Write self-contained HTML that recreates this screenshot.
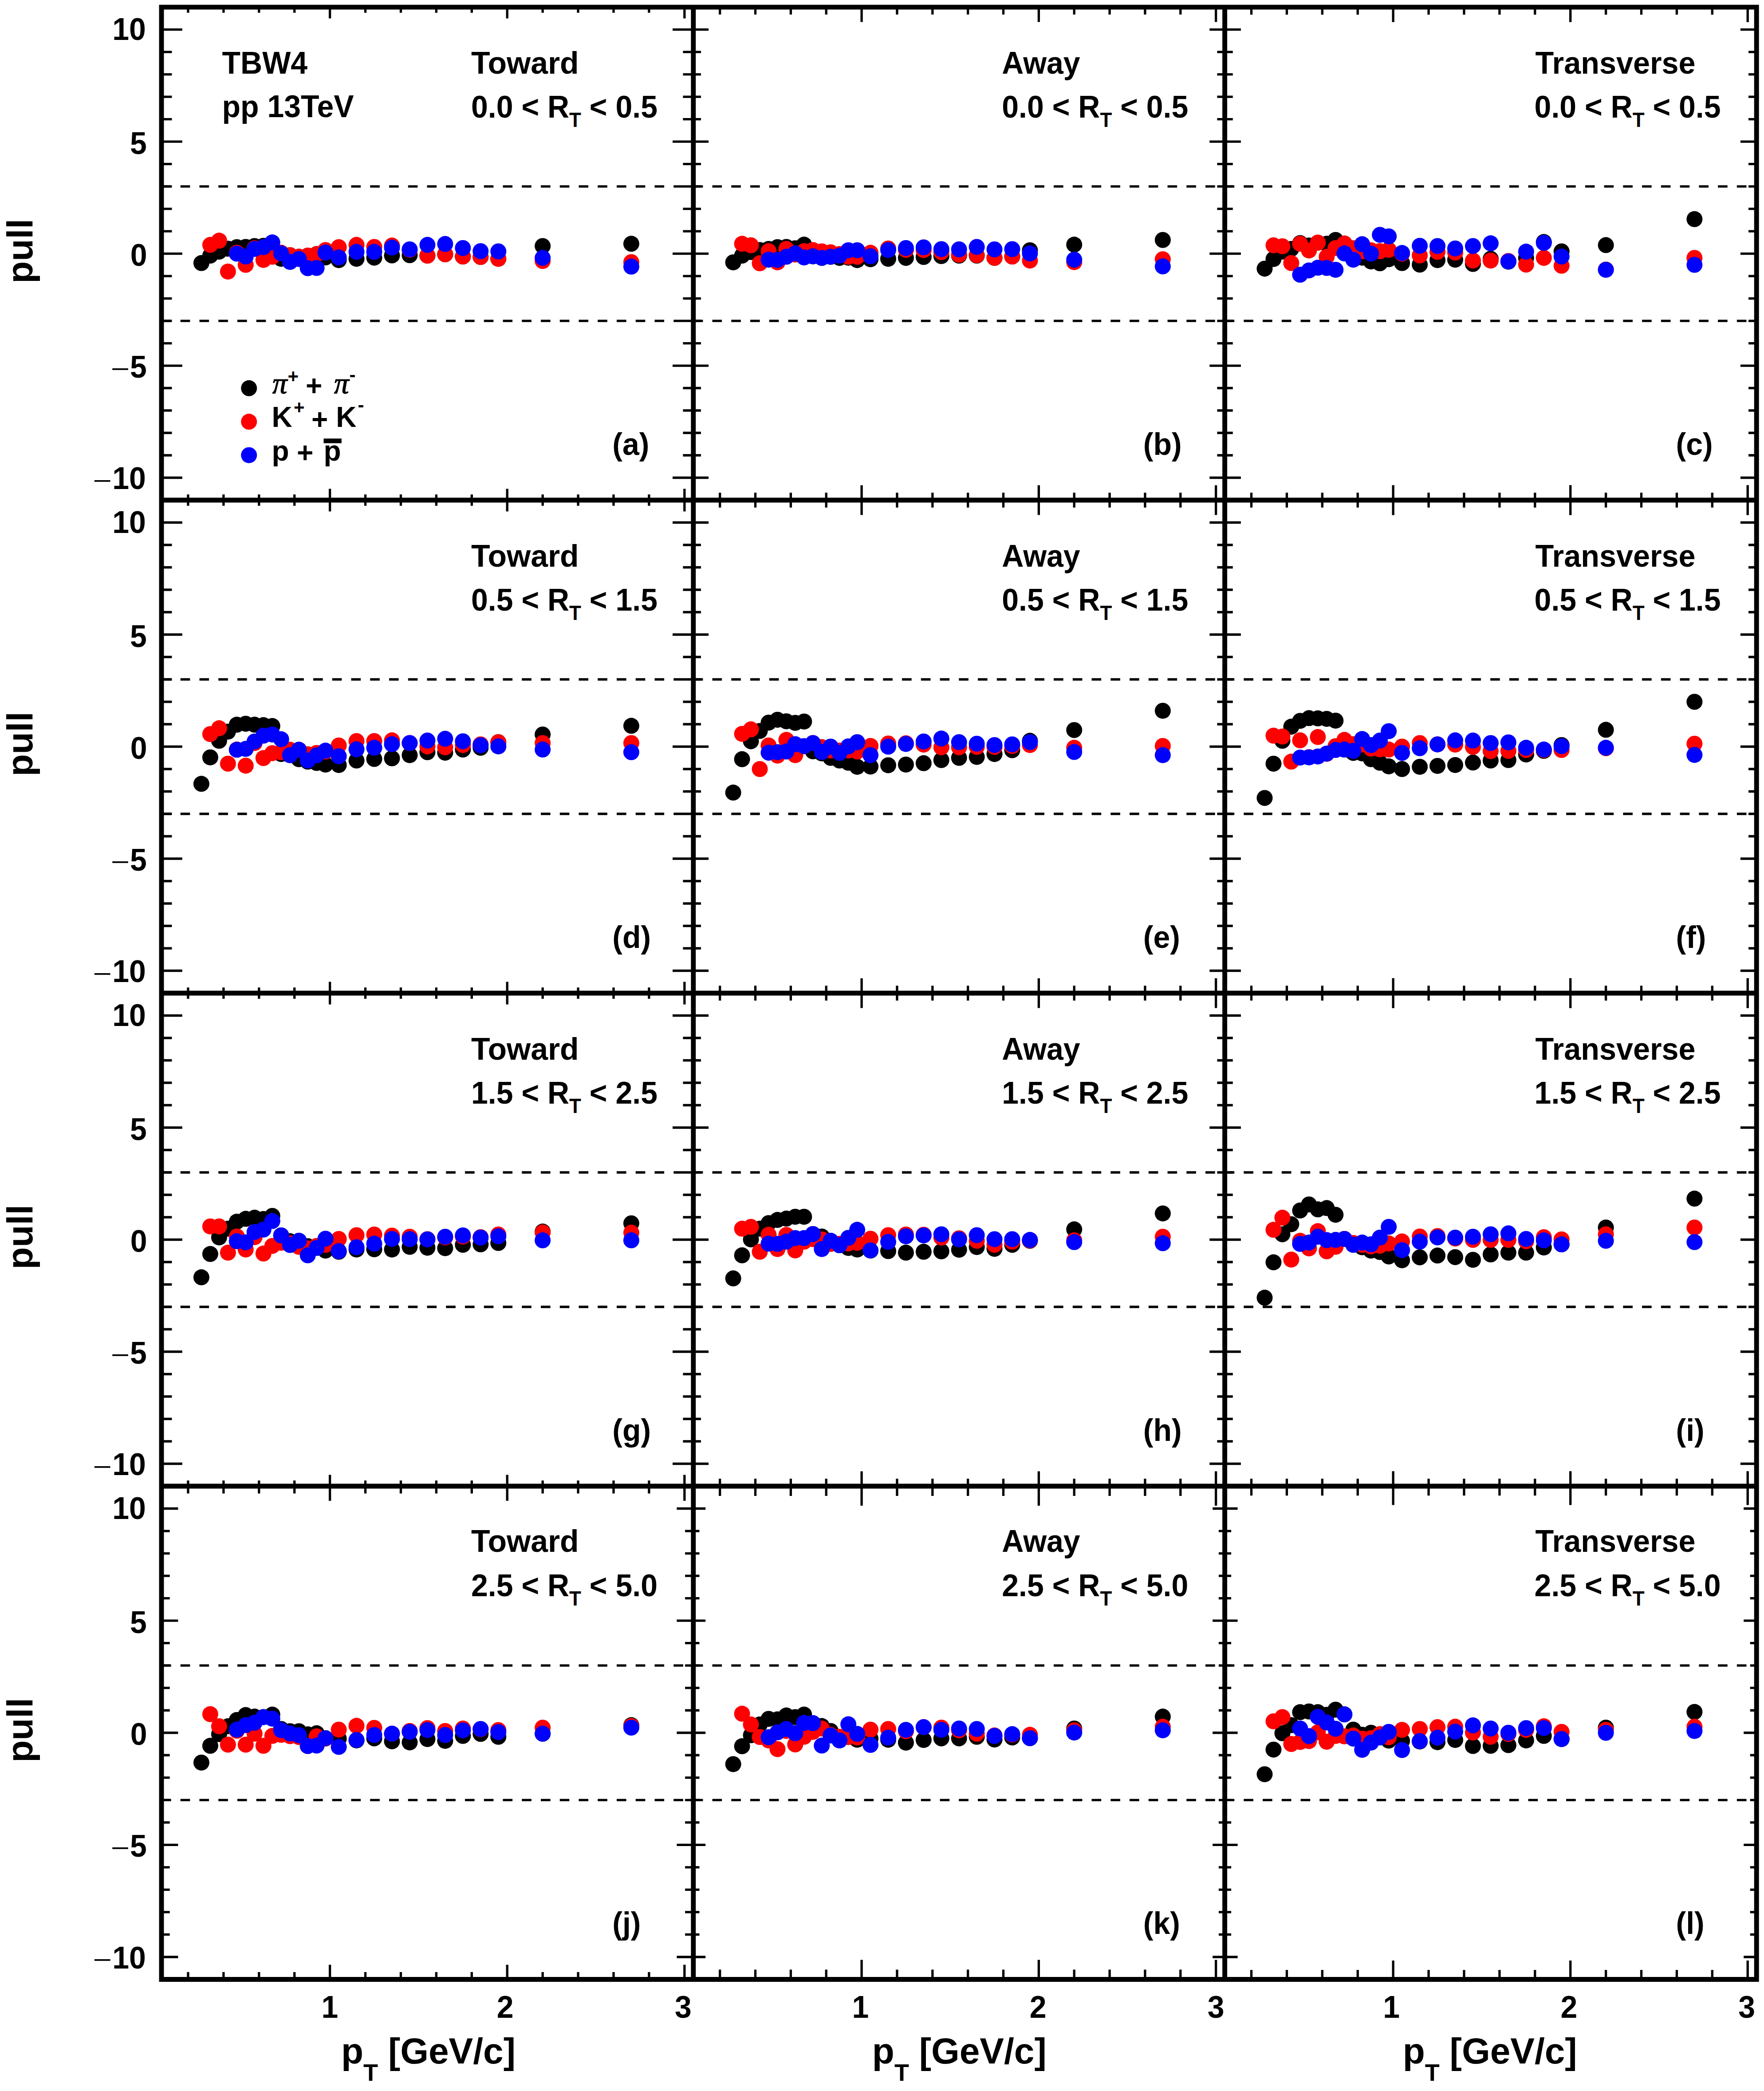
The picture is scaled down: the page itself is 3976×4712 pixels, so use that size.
<!DOCTYPE html>
<html><head><meta charset="utf-8"><title>pull</title>
<style>html,body{margin:0;padding:0;background:#fff}svg{display:block}</style></head><body>
<svg width="3976" height="4712" viewBox="0 0 3976 4712">
<rect width="3976" height="4712" fill="#fff"/>
<line x1="364" y1="420.06" x2="1562.8" y2="420.06" stroke="#000" stroke-width="5.3" stroke-dasharray="21.6 21.15"/>
<line x1="364" y1="723.04" x2="1562.8" y2="723.04" stroke="#000" stroke-width="5.3" stroke-dasharray="21.6 21.15"/>
<g fill="#000000">
<circle cx="453.91" cy="592.76" r="18.0"/>
<circle cx="473.89" cy="576.09" r="18.0"/>
<circle cx="493.87" cy="567.01" r="18.0"/>
<circle cx="513.85" cy="560.44" r="18.0"/>
<circle cx="533.83" cy="556.91" r="18.0"/>
<circle cx="553.81" cy="556.4" r="18.0"/>
<circle cx="573.79" cy="554.38" r="18.0"/>
<circle cx="593.77" cy="553.88" r="18.0"/>
<circle cx="613.75" cy="558.42" r="18.0"/>
<circle cx="633.73" cy="583.16" r="18.0"/>
<circle cx="653.71" cy="575.08" r="18.0"/>
<circle cx="673.69" cy="578.62" r="18.0"/>
<circle cx="693.67" cy="576.09" r="18.0"/>
<circle cx="713.65" cy="572.56" r="18.0"/>
<circle cx="733.63" cy="580.13" r="18.0"/>
<circle cx="763.6" cy="586.19" r="18.0"/>
<circle cx="803.56" cy="583.16" r="18.0"/>
<circle cx="843.52" cy="580.64" r="18.0"/>
<circle cx="883.48" cy="575.59" r="18.0"/>
<circle cx="923.44" cy="575.08" r="18.0"/>
<circle cx="963.4" cy="576.09" r="18.0"/>
<circle cx="1003.36" cy="573.06" r="18.0"/>
<circle cx="1043.32" cy="578.11" r="18.0"/>
<circle cx="1083.28" cy="579.12" r="18.0"/>
<circle cx="1123.24" cy="583.16" r="18.0"/>
<circle cx="1223.14" cy="554.38" r="18.0"/>
<circle cx="1422.94" cy="549.33" r="18.0"/>
</g>
<g fill="#ff0000">
<circle cx="473.89" cy="551.86" r="18.0"/>
<circle cx="493.87" cy="542.26" r="18.0"/>
<circle cx="513.85" cy="611.95" r="18.0"/>
<circle cx="533.83" cy="569.53" r="18.0"/>
<circle cx="553.81" cy="596.8" r="18.0"/>
<circle cx="573.79" cy="559.43" r="18.0"/>
<circle cx="593.77" cy="585.69" r="18.0"/>
<circle cx="613.75" cy="578.62" r="18.0"/>
<circle cx="633.73" cy="569.53" r="18.0"/>
<circle cx="653.71" cy="575.08" r="18.0"/>
<circle cx="673.69" cy="578.62" r="18.0"/>
<circle cx="693.67" cy="576.09" r="18.0"/>
<circle cx="713.65" cy="572.56" r="18.0"/>
<circle cx="733.63" cy="563.47" r="18.0"/>
<circle cx="763.6" cy="556.91" r="18.0"/>
<circle cx="803.56" cy="551.86" r="18.0"/>
<circle cx="843.52" cy="556.4" r="18.0"/>
<circle cx="883.48" cy="553.37" r="18.0"/>
<circle cx="923.44" cy="562.97" r="18.0"/>
<circle cx="963.4" cy="576.09" r="18.0"/>
<circle cx="1003.36" cy="573.06" r="18.0"/>
<circle cx="1043.32" cy="578.11" r="18.0"/>
<circle cx="1083.28" cy="579.12" r="18.0"/>
<circle cx="1123.24" cy="583.16" r="18.0"/>
<circle cx="1223.14" cy="588.21" r="18.0"/>
<circle cx="1422.94" cy="590.74" r="18.0"/>
</g>
<g fill="#0000ff">
<circle cx="533.83" cy="571.55" r="18.0"/>
<circle cx="553.81" cy="578.11" r="18.0"/>
<circle cx="573.79" cy="560.95" r="18.0"/>
<circle cx="593.77" cy="556.91" r="18.0"/>
<circle cx="613.75" cy="546.3" r="18.0"/>
<circle cx="633.73" cy="571.05" r="18.0"/>
<circle cx="653.71" cy="590.23" r="18.0"/>
<circle cx="673.69" cy="583.67" r="18.0"/>
<circle cx="693.67" cy="604.37" r="18.0"/>
<circle cx="713.65" cy="603.87" r="18.0"/>
<circle cx="733.63" cy="569.03" r="18.0"/>
<circle cx="763.6" cy="580.13" r="18.0"/>
<circle cx="803.56" cy="567.51" r="18.0"/>
<circle cx="843.52" cy="567.51" r="18.0"/>
<circle cx="883.48" cy="557.92" r="18.0"/>
<circle cx="923.44" cy="561.96" r="18.0"/>
<circle cx="963.4" cy="551.86" r="18.0"/>
<circle cx="1003.36" cy="549.84" r="18.0"/>
<circle cx="1043.32" cy="558.93" r="18.0"/>
<circle cx="1083.28" cy="566" r="18.0"/>
<circle cx="1123.24" cy="566.5" r="18.0"/>
<circle cx="1223.14" cy="581.14" r="18.0"/>
<circle cx="1422.94" cy="600.84" r="18.0"/>
</g>
<line x1="1562.8" y1="420.06" x2="2760.6" y2="420.06" stroke="#000" stroke-width="5.3" stroke-dasharray="21.6 21.15"/>
<line x1="1562.8" y1="723.04" x2="2760.6" y2="723.04" stroke="#000" stroke-width="5.3" stroke-dasharray="21.6 21.15"/>
<g fill="#000000">
<circle cx="1652.63" cy="591.24" r="18.0"/>
<circle cx="1672.6" cy="576.09" r="18.0"/>
<circle cx="1692.56" cy="568.02" r="18.0"/>
<circle cx="1712.52" cy="563.47" r="18.0"/>
<circle cx="1732.49" cy="560.95" r="18.0"/>
<circle cx="1752.45" cy="556.91" r="18.0"/>
<circle cx="1772.41" cy="556.4" r="18.0"/>
<circle cx="1792.38" cy="559.43" r="18.0"/>
<circle cx="1812.34" cy="551.35" r="18.0"/>
<circle cx="1832.3" cy="577.61" r="18.0"/>
<circle cx="1852.27" cy="581.14" r="18.0"/>
<circle cx="1872.23" cy="578.62" r="18.0"/>
<circle cx="1892.19" cy="581.14" r="18.0"/>
<circle cx="1912.16" cy="580.64" r="18.0"/>
<circle cx="1932.12" cy="586.19" r="18.0"/>
<circle cx="1962.07" cy="584.17" r="18.0"/>
<circle cx="2001.99" cy="583.16" r="18.0"/>
<circle cx="2041.92" cy="581.14" r="18.0"/>
<circle cx="2081.85" cy="579.12" r="18.0"/>
<circle cx="2121.77" cy="577.1" r="18.0"/>
<circle cx="2161.7" cy="576.09" r="18.0"/>
<circle cx="2201.63" cy="576.09" r="18.0"/>
<circle cx="2241.55" cy="581.14" r="18.0"/>
<circle cx="2281.48" cy="578.11" r="18.0"/>
<circle cx="2321.41" cy="563.98" r="18.0"/>
<circle cx="2421.22" cy="551.35" r="18.0"/>
<circle cx="2620.86" cy="540.75" r="18.0"/>
</g>
<g fill="#ff0000">
<circle cx="1672.6" cy="549.33" r="18.0"/>
<circle cx="1692.56" cy="552.87" r="18.0"/>
<circle cx="1712.52" cy="593.26" r="18.0"/>
<circle cx="1732.49" cy="566" r="18.0"/>
<circle cx="1752.45" cy="591.24" r="18.0"/>
<circle cx="1772.41" cy="560.95" r="18.0"/>
<circle cx="1792.38" cy="573.57" r="18.0"/>
<circle cx="1812.34" cy="566" r="18.0"/>
<circle cx="1832.3" cy="563.47" r="18.0"/>
<circle cx="1852.27" cy="566.5" r="18.0"/>
<circle cx="1872.23" cy="568.52" r="18.0"/>
<circle cx="1892.19" cy="572.56" r="18.0"/>
<circle cx="1912.16" cy="578.62" r="18.0"/>
<circle cx="1932.12" cy="578.62" r="18.0"/>
<circle cx="1962.07" cy="569.53" r="18.0"/>
<circle cx="2001.99" cy="559.94" r="18.0"/>
<circle cx="2041.92" cy="562.97" r="18.0"/>
<circle cx="2081.85" cy="563.47" r="18.0"/>
<circle cx="2121.77" cy="568.02" r="18.0"/>
<circle cx="2161.7" cy="574.07" r="18.0"/>
<circle cx="2201.63" cy="575.08" r="18.0"/>
<circle cx="2241.55" cy="581.14" r="18.0"/>
<circle cx="2281.48" cy="578.11" r="18.0"/>
<circle cx="2321.41" cy="587.2" r="18.0"/>
<circle cx="2421.22" cy="590.74" r="18.0"/>
<circle cx="2620.86" cy="584.17" r="18.0"/>
</g>
<g fill="#0000ff">
<circle cx="1732.49" cy="585.18" r="18.0"/>
<circle cx="1752.45" cy="585.69" r="18.0"/>
<circle cx="1772.41" cy="578.62" r="18.0"/>
<circle cx="1792.38" cy="571.05" r="18.0"/>
<circle cx="1812.34" cy="580.13" r="18.0"/>
<circle cx="1832.3" cy="577.61" r="18.0"/>
<circle cx="1852.27" cy="581.14" r="18.0"/>
<circle cx="1872.23" cy="578.62" r="18.0"/>
<circle cx="1892.19" cy="576.09" r="18.0"/>
<circle cx="1912.16" cy="563.98" r="18.0"/>
<circle cx="1932.12" cy="563.98" r="18.0"/>
<circle cx="1962.07" cy="577.61" r="18.0"/>
<circle cx="2001.99" cy="563.47" r="18.0"/>
<circle cx="2041.92" cy="558.93" r="18.0"/>
<circle cx="2081.85" cy="557.41" r="18.0"/>
<circle cx="2121.77" cy="561.45" r="18.0"/>
<circle cx="2161.7" cy="561.96" r="18.0"/>
<circle cx="2201.63" cy="556.4" r="18.0"/>
<circle cx="2241.55" cy="561.96" r="18.0"/>
<circle cx="2281.48" cy="561.45" r="18.0"/>
<circle cx="2321.41" cy="571.05" r="18.0"/>
<circle cx="2421.22" cy="585.18" r="18.0"/>
<circle cx="2620.86" cy="600.33" r="18.0"/>
</g>
<line x1="2760.6" y1="420.06" x2="3959.2" y2="420.06" stroke="#000" stroke-width="5.3" stroke-dasharray="21.6 21.15"/>
<line x1="2760.6" y1="723.04" x2="3959.2" y2="723.04" stroke="#000" stroke-width="5.3" stroke-dasharray="21.6 21.15"/>
<g fill="#000000">
<circle cx="2850.49" cy="605.38" r="18.0"/>
<circle cx="2870.47" cy="583.67" r="18.0"/>
<circle cx="2890.45" cy="567.01" r="18.0"/>
<circle cx="2910.42" cy="560.95" r="18.0"/>
<circle cx="2930.4" cy="547.82" r="18.0"/>
<circle cx="2950.38" cy="553.37" r="18.0"/>
<circle cx="2970.36" cy="546.81" r="18.0"/>
<circle cx="2990.33" cy="549.33" r="18.0"/>
<circle cx="3010.31" cy="540.75" r="18.0"/>
<circle cx="3030.28" cy="548.83" r="18.0"/>
<circle cx="3050.26" cy="559.43" r="18.0"/>
<circle cx="3070.24" cy="580.64" r="18.0"/>
<circle cx="3090.21" cy="589.22" r="18.0"/>
<circle cx="3110.19" cy="593.26" r="18.0"/>
<circle cx="3130.17" cy="584.17" r="18.0"/>
<circle cx="3160.13" cy="592.76" r="18.0"/>
<circle cx="3200.09" cy="596.29" r="18.0"/>
<circle cx="3240.04" cy="586.19" r="18.0"/>
<circle cx="3279.99" cy="585.18" r="18.0"/>
<circle cx="3319.95" cy="594.78" r="18.0"/>
<circle cx="3359.9" cy="583.16" r="18.0"/>
<circle cx="3399.85" cy="589.73" r="18.0"/>
<circle cx="3439.81" cy="581.14" r="18.0"/>
<circle cx="3479.76" cy="545.29" r="18.0"/>
<circle cx="3519.71" cy="566.5" r="18.0"/>
<circle cx="3619.6" cy="552.36" r="18.0"/>
<circle cx="3819.36" cy="493.79" r="18.0"/>
</g>
<g fill="#ff0000">
<circle cx="2870.47" cy="552.87" r="18.0"/>
<circle cx="2890.45" cy="554.89" r="18.0"/>
<circle cx="2910.42" cy="592.76" r="18.0"/>
<circle cx="2930.4" cy="549.33" r="18.0"/>
<circle cx="2950.38" cy="564.48" r="18.0"/>
<circle cx="2970.36" cy="546.81" r="18.0"/>
<circle cx="2990.33" cy="578.62" r="18.0"/>
<circle cx="3010.31" cy="558.93" r="18.0"/>
<circle cx="3030.28" cy="548.83" r="18.0"/>
<circle cx="3050.26" cy="559.43" r="18.0"/>
<circle cx="3070.24" cy="566" r="18.0"/>
<circle cx="3090.21" cy="563.98" r="18.0"/>
<circle cx="3110.19" cy="566" r="18.0"/>
<circle cx="3130.17" cy="562.97" r="18.0"/>
<circle cx="3160.13" cy="571.55" r="18.0"/>
<circle cx="3200.09" cy="575.59" r="18.0"/>
<circle cx="3240.04" cy="567.51" r="18.0"/>
<circle cx="3279.99" cy="569.03" r="18.0"/>
<circle cx="3319.95" cy="587.2" r="18.0"/>
<circle cx="3359.9" cy="587.2" r="18.0"/>
<circle cx="3399.85" cy="588.21" r="18.0"/>
<circle cx="3439.81" cy="596.29" r="18.0"/>
<circle cx="3479.76" cy="581.14" r="18.0"/>
<circle cx="3519.71" cy="598.82" r="18.0"/>
<circle cx="3619.6" cy="607.4" r="18.0"/>
<circle cx="3819.36" cy="581.14" r="18.0"/>
</g>
<g fill="#0000ff">
<circle cx="2930.4" cy="619.02" r="18.0"/>
<circle cx="2950.38" cy="609.42" r="18.0"/>
<circle cx="2970.36" cy="603.36" r="18.0"/>
<circle cx="2990.33" cy="603.87" r="18.0"/>
<circle cx="3010.31" cy="607.91" r="18.0"/>
<circle cx="3030.28" cy="571.05" r="18.0"/>
<circle cx="3050.26" cy="585.18" r="18.0"/>
<circle cx="3070.24" cy="550.34" r="18.0"/>
<circle cx="3090.21" cy="571.55" r="18.0"/>
<circle cx="3110.19" cy="529.13" r="18.0"/>
<circle cx="3130.17" cy="532.67" r="18.0"/>
<circle cx="3160.13" cy="570.04" r="18.0"/>
<circle cx="3200.09" cy="553.88" r="18.0"/>
<circle cx="3240.04" cy="554.38" r="18.0"/>
<circle cx="3279.99" cy="559.94" r="18.0"/>
<circle cx="3319.95" cy="554.38" r="18.0"/>
<circle cx="3359.9" cy="548.32" r="18.0"/>
<circle cx="3399.85" cy="589.22" r="18.0"/>
<circle cx="3439.81" cy="567.01" r="18.0"/>
<circle cx="3479.76" cy="547.31" r="18.0"/>
<circle cx="3519.71" cy="578.11" r="18.0"/>
<circle cx="3619.6" cy="607.91" r="18.0"/>
<circle cx="3819.36" cy="596.8" r="18.0"/>
</g>
<line x1="364" y1="1531" x2="1562.8" y2="1531" stroke="#000" stroke-width="5.3" stroke-dasharray="21.6 21.15"/>
<line x1="364" y1="1834" x2="1562.8" y2="1834" stroke="#000" stroke-width="5.3" stroke-dasharray="21.6 21.15"/>
<g fill="#000000">
<circle cx="453.91" cy="1766.33" r="18.0"/>
<circle cx="473.89" cy="1706.74" r="18.0"/>
<circle cx="493.87" cy="1669.37" r="18.0"/>
<circle cx="513.85" cy="1648.66" r="18.0"/>
<circle cx="533.83" cy="1633.01" r="18.0"/>
<circle cx="553.81" cy="1630.99" r="18.0"/>
<circle cx="573.79" cy="1633.01" r="18.0"/>
<circle cx="593.77" cy="1634.02" r="18.0"/>
<circle cx="613.75" cy="1636.04" r="18.0"/>
<circle cx="633.73" cy="1699.16" r="18.0"/>
<circle cx="653.71" cy="1701.69" r="18.0"/>
<circle cx="673.69" cy="1710.78" r="18.0"/>
<circle cx="693.67" cy="1716.34" r="18.0"/>
<circle cx="713.65" cy="1719.37" r="18.0"/>
<circle cx="733.63" cy="1722.9" r="18.0"/>
<circle cx="763.6" cy="1723.91" r="18.0"/>
<circle cx="803.56" cy="1713.81" r="18.0"/>
<circle cx="843.52" cy="1710.28" r="18.0"/>
<circle cx="883.48" cy="1708.76" r="18.0"/>
<circle cx="923.44" cy="1701.69" r="18.0"/>
<circle cx="963.4" cy="1695.12" r="18.0"/>
<circle cx="1003.36" cy="1696.13" r="18.0"/>
<circle cx="1043.32" cy="1689.07" r="18.0"/>
<circle cx="1083.28" cy="1685.03" r="18.0"/>
<circle cx="1123.24" cy="1672.4" r="18.0"/>
<circle cx="1223.14" cy="1655.23" r="18.0"/>
<circle cx="1422.94" cy="1635.54" r="18.0"/>
</g>
<g fill="#ff0000">
<circle cx="473.89" cy="1654.22" r="18.0"/>
<circle cx="493.87" cy="1641.09" r="18.0"/>
<circle cx="513.85" cy="1720.88" r="18.0"/>
<circle cx="533.83" cy="1689.07" r="18.0"/>
<circle cx="553.81" cy="1725.43" r="18.0"/>
<circle cx="573.79" cy="1674.42" r="18.0"/>
<circle cx="593.77" cy="1708.26" r="18.0"/>
<circle cx="613.75" cy="1697.14" r="18.0"/>
<circle cx="633.73" cy="1695.12" r="18.0"/>
<circle cx="653.71" cy="1689.57" r="18.0"/>
<circle cx="673.69" cy="1689.57" r="18.0"/>
<circle cx="693.67" cy="1699.67" r="18.0"/>
<circle cx="713.65" cy="1696.64" r="18.0"/>
<circle cx="733.63" cy="1693.61" r="18.0"/>
<circle cx="763.6" cy="1679.97" r="18.0"/>
<circle cx="803.56" cy="1669.88" r="18.0"/>
<circle cx="843.52" cy="1669.88" r="18.0"/>
<circle cx="883.48" cy="1668.36" r="18.0"/>
<circle cx="923.44" cy="1674.42" r="18.0"/>
<circle cx="963.4" cy="1681.99" r="18.0"/>
<circle cx="1003.36" cy="1684.01" r="18.0"/>
<circle cx="1043.32" cy="1678.97" r="18.0"/>
<circle cx="1083.28" cy="1677.45" r="18.0"/>
<circle cx="1123.24" cy="1672.4" r="18.0"/>
<circle cx="1223.14" cy="1674.42" r="18.0"/>
<circle cx="1422.94" cy="1674.42" r="18.0"/>
</g>
<g fill="#0000ff">
<circle cx="533.83" cy="1689.57" r="18.0"/>
<circle cx="553.81" cy="1687.55" r="18.0"/>
<circle cx="573.79" cy="1670.88" r="18.0"/>
<circle cx="593.77" cy="1657.76" r="18.0"/>
<circle cx="613.75" cy="1655.23" r="18.0"/>
<circle cx="633.73" cy="1665.84" r="18.0"/>
<circle cx="653.71" cy="1701.69" r="18.0"/>
<circle cx="673.69" cy="1689.57" r="18.0"/>
<circle cx="693.67" cy="1713.81" r="18.0"/>
<circle cx="713.65" cy="1702.2" r="18.0"/>
<circle cx="733.63" cy="1691.59" r="18.0"/>
<circle cx="763.6" cy="1704.22" r="18.0"/>
<circle cx="803.56" cy="1688.56" r="18.0"/>
<circle cx="843.52" cy="1685.03" r="18.0"/>
<circle cx="883.48" cy="1676.95" r="18.0"/>
<circle cx="923.44" cy="1674.42" r="18.0"/>
<circle cx="963.4" cy="1668.87" r="18.0"/>
<circle cx="1003.36" cy="1664.82" r="18.0"/>
<circle cx="1043.32" cy="1670.38" r="18.0"/>
<circle cx="1083.28" cy="1679.47" r="18.0"/>
<circle cx="1123.24" cy="1681.99" r="18.0"/>
<circle cx="1223.14" cy="1689.07" r="18.0"/>
<circle cx="1422.94" cy="1695.12" r="18.0"/>
</g>
<line x1="1562.8" y1="1531" x2="2760.6" y2="1531" stroke="#000" stroke-width="5.3" stroke-dasharray="21.6 21.15"/>
<line x1="1562.8" y1="1834" x2="2760.6" y2="1834" stroke="#000" stroke-width="5.3" stroke-dasharray="21.6 21.15"/>
<g fill="#000000">
<circle cx="1652.63" cy="1786.03" r="18.0"/>
<circle cx="1672.6" cy="1710.78" r="18.0"/>
<circle cx="1692.56" cy="1670.38" r="18.0"/>
<circle cx="1712.52" cy="1647.15" r="18.0"/>
<circle cx="1732.49" cy="1628.46" r="18.0"/>
<circle cx="1752.45" cy="1621.9" r="18.0"/>
<circle cx="1772.41" cy="1625.43" r="18.0"/>
<circle cx="1792.38" cy="1628.97" r="18.0"/>
<circle cx="1812.34" cy="1625.94" r="18.0"/>
<circle cx="1832.3" cy="1693.11" r="18.0"/>
<circle cx="1852.27" cy="1697.65" r="18.0"/>
<circle cx="1872.23" cy="1707.75" r="18.0"/>
<circle cx="1892.19" cy="1713.81" r="18.0"/>
<circle cx="1912.16" cy="1718.86" r="18.0"/>
<circle cx="1932.12" cy="1727.95" r="18.0"/>
<circle cx="1962.07" cy="1727.45" r="18.0"/>
<circle cx="2001.99" cy="1724.41" r="18.0"/>
<circle cx="2041.92" cy="1722.9" r="18.0"/>
<circle cx="2081.85" cy="1719.87" r="18.0"/>
<circle cx="2121.77" cy="1712.8" r="18.0"/>
<circle cx="2161.7" cy="1707.75" r="18.0"/>
<circle cx="2201.63" cy="1705.73" r="18.0"/>
<circle cx="2241.55" cy="1699.16" r="18.0"/>
<circle cx="2281.48" cy="1690.58" r="18.0"/>
<circle cx="2321.41" cy="1669.37" r="18.0"/>
<circle cx="2421.22" cy="1645.13" r="18.0"/>
<circle cx="2620.86" cy="1601.7" r="18.0"/>
</g>
<g fill="#ff0000">
<circle cx="1672.6" cy="1653.72" r="18.0"/>
<circle cx="1692.56" cy="1643.62" r="18.0"/>
<circle cx="1712.52" cy="1733" r="18.0"/>
<circle cx="1732.49" cy="1679.97" r="18.0"/>
<circle cx="1752.45" cy="1702.7" r="18.0"/>
<circle cx="1772.41" cy="1667.35" r="18.0"/>
<circle cx="1792.38" cy="1701.69" r="18.0"/>
<circle cx="1812.34" cy="1681.49" r="18.0"/>
<circle cx="1832.3" cy="1674.42" r="18.0"/>
<circle cx="1852.27" cy="1683.51" r="18.0"/>
<circle cx="1872.23" cy="1691.09" r="18.0"/>
<circle cx="1892.19" cy="1691.59" r="18.0"/>
<circle cx="1912.16" cy="1691.09" r="18.0"/>
<circle cx="1932.12" cy="1693.61" r="18.0"/>
<circle cx="1962.07" cy="1680.99" r="18.0"/>
<circle cx="2001.99" cy="1675.43" r="18.0"/>
<circle cx="2041.92" cy="1674.93" r="18.0"/>
<circle cx="2081.85" cy="1677.95" r="18.0"/>
<circle cx="2121.77" cy="1684.01" r="18.0"/>
<circle cx="2161.7" cy="1684.01" r="18.0"/>
<circle cx="2201.63" cy="1683.01" r="18.0"/>
<circle cx="2241.55" cy="1683.01" r="18.0"/>
<circle cx="2281.48" cy="1680.99" r="18.0"/>
<circle cx="2321.41" cy="1678.97" r="18.0"/>
<circle cx="2421.22" cy="1685.03" r="18.0"/>
<circle cx="2620.86" cy="1680.99" r="18.0"/>
</g>
<g fill="#0000ff">
<circle cx="1732.49" cy="1696.13" r="18.0"/>
<circle cx="1752.45" cy="1695.12" r="18.0"/>
<circle cx="1772.41" cy="1693.61" r="18.0"/>
<circle cx="1792.38" cy="1676.95" r="18.0"/>
<circle cx="1812.34" cy="1681.49" r="18.0"/>
<circle cx="1832.3" cy="1674.42" r="18.0"/>
<circle cx="1852.27" cy="1694.62" r="18.0"/>
<circle cx="1872.23" cy="1682.5" r="18.0"/>
<circle cx="1892.19" cy="1696.64" r="18.0"/>
<circle cx="1912.16" cy="1681.99" r="18.0"/>
<circle cx="1932.12" cy="1672.4" r="18.0"/>
<circle cx="1962.07" cy="1701.69" r="18.0"/>
<circle cx="2001.99" cy="1682.5" r="18.0"/>
<circle cx="2041.92" cy="1676.44" r="18.0"/>
<circle cx="2081.85" cy="1670.88" r="18.0"/>
<circle cx="2121.77" cy="1664.32" r="18.0"/>
<circle cx="2161.7" cy="1672.4" r="18.0"/>
<circle cx="2201.63" cy="1675.93" r="18.0"/>
<circle cx="2241.55" cy="1678.97" r="18.0"/>
<circle cx="2281.48" cy="1677.45" r="18.0"/>
<circle cx="2321.41" cy="1672.4" r="18.0"/>
<circle cx="2421.22" cy="1694.62" r="18.0"/>
<circle cx="2620.86" cy="1701.69" r="18.0"/>
</g>
<line x1="2760.6" y1="1531" x2="3959.2" y2="1531" stroke="#000" stroke-width="5.3" stroke-dasharray="21.6 21.15"/>
<line x1="2760.6" y1="1834" x2="3959.2" y2="1834" stroke="#000" stroke-width="5.3" stroke-dasharray="21.6 21.15"/>
<g fill="#000000">
<circle cx="2850.49" cy="1798.14" r="18.0"/>
<circle cx="2870.47" cy="1720.88" r="18.0"/>
<circle cx="2890.45" cy="1669.37" r="18.0"/>
<circle cx="2910.42" cy="1637.55" r="18.0"/>
<circle cx="2930.4" cy="1624.42" r="18.0"/>
<circle cx="2950.38" cy="1618.37" r="18.0"/>
<circle cx="2970.36" cy="1618.87" r="18.0"/>
<circle cx="2990.33" cy="1619.88" r="18.0"/>
<circle cx="3010.31" cy="1623.92" r="18.0"/>
<circle cx="3030.28" cy="1689.07" r="18.0"/>
<circle cx="3050.26" cy="1696.64" r="18.0"/>
<circle cx="3070.24" cy="1697.65" r="18.0"/>
<circle cx="3090.21" cy="1710.78" r="18.0"/>
<circle cx="3110.19" cy="1718.86" r="18.0"/>
<circle cx="3130.17" cy="1726.94" r="18.0"/>
<circle cx="3160.13" cy="1733" r="18.0"/>
<circle cx="3200.09" cy="1727.95" r="18.0"/>
<circle cx="3240.04" cy="1725.93" r="18.0"/>
<circle cx="3279.99" cy="1723.91" r="18.0"/>
<circle cx="3319.95" cy="1718.36" r="18.0"/>
<circle cx="3359.9" cy="1713.81" r="18.0"/>
<circle cx="3399.85" cy="1712.8" r="18.0"/>
<circle cx="3439.81" cy="1700.18" r="18.0"/>
<circle cx="3479.76" cy="1692.1" r="18.0"/>
<circle cx="3519.71" cy="1678.97" r="18.0"/>
<circle cx="3619.6" cy="1644.62" r="18.0"/>
<circle cx="3819.36" cy="1581.5" r="18.0"/>
</g>
<g fill="#ff0000">
<circle cx="2870.47" cy="1657.76" r="18.0"/>
<circle cx="2890.45" cy="1659.78" r="18.0"/>
<circle cx="2910.42" cy="1716.34" r="18.0"/>
<circle cx="2930.4" cy="1668.36" r="18.0"/>
<circle cx="2950.38" cy="1706.24" r="18.0"/>
<circle cx="2970.36" cy="1660.78" r="18.0"/>
<circle cx="2990.33" cy="1698.66" r="18.0"/>
<circle cx="3010.31" cy="1681.49" r="18.0"/>
<circle cx="3030.28" cy="1667.35" r="18.0"/>
<circle cx="3050.26" cy="1676.95" r="18.0"/>
<circle cx="3070.24" cy="1677.45" r="18.0"/>
<circle cx="3090.21" cy="1687.05" r="18.0"/>
<circle cx="3110.19" cy="1688.56" r="18.0"/>
<circle cx="3130.17" cy="1689.07" r="18.0"/>
<circle cx="3160.13" cy="1682.5" r="18.0"/>
<circle cx="3200.09" cy="1674.42" r="18.0"/>
<circle cx="3240.04" cy="1677.45" r="18.0"/>
<circle cx="3279.99" cy="1677.95" r="18.0"/>
<circle cx="3319.95" cy="1683.01" r="18.0"/>
<circle cx="3359.9" cy="1692.6" r="18.0"/>
<circle cx="3399.85" cy="1692.1" r="18.0"/>
<circle cx="3439.81" cy="1690.07" r="18.0"/>
<circle cx="3479.76" cy="1690.07" r="18.0"/>
<circle cx="3519.71" cy="1690.07" r="18.0"/>
<circle cx="3619.6" cy="1686.03" r="18.0"/>
<circle cx="3819.36" cy="1675.93" r="18.0"/>
</g>
<g fill="#0000ff">
<circle cx="2930.4" cy="1707.24" r="18.0"/>
<circle cx="2950.38" cy="1706.74" r="18.0"/>
<circle cx="2970.36" cy="1704.72" r="18.0"/>
<circle cx="2990.33" cy="1698.15" r="18.0"/>
<circle cx="3010.31" cy="1690.07" r="18.0"/>
<circle cx="3030.28" cy="1689.07" r="18.0"/>
<circle cx="3050.26" cy="1692.1" r="18.0"/>
<circle cx="3070.24" cy="1665.33" r="18.0"/>
<circle cx="3090.21" cy="1678.97" r="18.0"/>
<circle cx="3110.19" cy="1668.87" r="18.0"/>
<circle cx="3130.17" cy="1647.65" r="18.0"/>
<circle cx="3160.13" cy="1696.64" r="18.0"/>
<circle cx="3200.09" cy="1686.03" r="18.0"/>
<circle cx="3240.04" cy="1677.45" r="18.0"/>
<circle cx="3279.99" cy="1668.36" r="18.0"/>
<circle cx="3319.95" cy="1668.87" r="18.0"/>
<circle cx="3359.9" cy="1674.42" r="18.0"/>
<circle cx="3399.85" cy="1672.9" r="18.0"/>
<circle cx="3439.81" cy="1685.03" r="18.0"/>
<circle cx="3479.76" cy="1689.07" r="18.0"/>
<circle cx="3519.71" cy="1681.49" r="18.0"/>
<circle cx="3619.6" cy="1685.03" r="18.0"/>
<circle cx="3819.36" cy="1701.18" r="18.0"/>
</g>
<line x1="364" y1="2642" x2="1562.8" y2="2642" stroke="#000" stroke-width="5.3" stroke-dasharray="21.6 21.15"/>
<line x1="364" y1="2945" x2="1562.8" y2="2945" stroke="#000" stroke-width="5.3" stroke-dasharray="21.6 21.15"/>
<g fill="#000000">
<circle cx="453.91" cy="2878.34" r="18.0"/>
<circle cx="473.89" cy="2825.82" r="18.0"/>
<circle cx="493.87" cy="2788.45" r="18.0"/>
<circle cx="513.85" cy="2768.76" r="18.0"/>
<circle cx="533.83" cy="2753.1" r="18.0"/>
<circle cx="553.81" cy="2746.53" r="18.0"/>
<circle cx="573.79" cy="2744.01" r="18.0"/>
<circle cx="593.77" cy="2747.04" r="18.0"/>
<circle cx="613.75" cy="2739.97" r="18.0"/>
<circle cx="633.73" cy="2783.9" r="18.0"/>
<circle cx="653.71" cy="2797.03" r="18.0"/>
<circle cx="673.69" cy="2796.03" r="18.0"/>
<circle cx="693.67" cy="2808.14" r="18.0"/>
<circle cx="713.65" cy="2812.18" r="18.0"/>
<circle cx="733.63" cy="2818.24" r="18.0"/>
<circle cx="763.6" cy="2820.77" r="18.0"/>
<circle cx="803.56" cy="2815.72" r="18.0"/>
<circle cx="843.52" cy="2815.22" r="18.0"/>
<circle cx="883.48" cy="2815.72" r="18.0"/>
<circle cx="923.44" cy="2809.66" r="18.0"/>
<circle cx="963.4" cy="2811.68" r="18.0"/>
<circle cx="1003.36" cy="2812.69" r="18.0"/>
<circle cx="1043.32" cy="2805.11" r="18.0"/>
<circle cx="1083.28" cy="2804.11" r="18.0"/>
<circle cx="1123.24" cy="2801.07" r="18.0"/>
<circle cx="1223.14" cy="2775.32" r="18.0"/>
<circle cx="1422.94" cy="2756.64" r="18.0"/>
</g>
<g fill="#ff0000">
<circle cx="473.89" cy="2763.7" r="18.0"/>
<circle cx="493.87" cy="2763.7" r="18.0"/>
<circle cx="513.85" cy="2822.79" r="18.0"/>
<circle cx="533.83" cy="2786.43" r="18.0"/>
<circle cx="553.81" cy="2815.72" r="18.0"/>
<circle cx="573.79" cy="2787.95" r="18.0"/>
<circle cx="593.77" cy="2824.81" r="18.0"/>
<circle cx="613.75" cy="2807.64" r="18.0"/>
<circle cx="633.73" cy="2800.57" r="18.0"/>
<circle cx="653.71" cy="2802.09" r="18.0"/>
<circle cx="673.69" cy="2809.66" r="18.0"/>
<circle cx="693.67" cy="2813.2" r="18.0"/>
<circle cx="713.65" cy="2807.64" r="18.0"/>
<circle cx="733.63" cy="2805.11" r="18.0"/>
<circle cx="763.6" cy="2791.99" r="18.0"/>
<circle cx="803.56" cy="2783.4" r="18.0"/>
<circle cx="843.52" cy="2781.89" r="18.0"/>
<circle cx="883.48" cy="2784.41" r="18.0"/>
<circle cx="923.44" cy="2786.93" r="18.0"/>
<circle cx="963.4" cy="2792.49" r="18.0"/>
<circle cx="1003.36" cy="2788.45" r="18.0"/>
<circle cx="1043.32" cy="2786.43" r="18.0"/>
<circle cx="1083.28" cy="2787.95" r="18.0"/>
<circle cx="1123.24" cy="2781.89" r="18.0"/>
<circle cx="1223.14" cy="2777.34" r="18.0"/>
<circle cx="1422.94" cy="2777.85" r="18.0"/>
</g>
<g fill="#0000ff">
<circle cx="533.83" cy="2797.03" r="18.0"/>
<circle cx="553.81" cy="2799.56" r="18.0"/>
<circle cx="573.79" cy="2776.33" r="18.0"/>
<circle cx="593.77" cy="2770.78" r="18.0"/>
<circle cx="613.75" cy="2751.59" r="18.0"/>
<circle cx="633.73" cy="2783.9" r="18.0"/>
<circle cx="653.71" cy="2805.62" r="18.0"/>
<circle cx="673.69" cy="2796.03" r="18.0"/>
<circle cx="693.67" cy="2828.85" r="18.0"/>
<circle cx="713.65" cy="2812.18" r="18.0"/>
<circle cx="733.63" cy="2791.48" r="18.0"/>
<circle cx="763.6" cy="2819.26" r="18.0"/>
<circle cx="803.56" cy="2810.67" r="18.0"/>
<circle cx="843.52" cy="2802.59" r="18.0"/>
<circle cx="883.48" cy="2791.99" r="18.0"/>
<circle cx="923.44" cy="2792.49" r="18.0"/>
<circle cx="963.4" cy="2792.99" r="18.0"/>
<circle cx="1003.36" cy="2786.93" r="18.0"/>
<circle cx="1043.32" cy="2783.9" r="18.0"/>
<circle cx="1083.28" cy="2788.95" r="18.0"/>
<circle cx="1123.24" cy="2785.93" r="18.0"/>
<circle cx="1223.14" cy="2795.01" r="18.0"/>
<circle cx="1422.94" cy="2795.01" r="18.0"/>
</g>
<line x1="1562.8" y1="2642" x2="2760.6" y2="2642" stroke="#000" stroke-width="5.3" stroke-dasharray="21.6 21.15"/>
<line x1="1562.8" y1="2945" x2="2760.6" y2="2945" stroke="#000" stroke-width="5.3" stroke-dasharray="21.6 21.15"/>
<g fill="#000000">
<circle cx="1652.63" cy="2880.86" r="18.0"/>
<circle cx="1672.6" cy="2828.85" r="18.0"/>
<circle cx="1692.56" cy="2792.99" r="18.0"/>
<circle cx="1712.52" cy="2768.76" r="18.0"/>
<circle cx="1732.49" cy="2756.13" r="18.0"/>
<circle cx="1752.45" cy="2749.06" r="18.0"/>
<circle cx="1772.41" cy="2746.03" r="18.0"/>
<circle cx="1792.38" cy="2741.99" r="18.0"/>
<circle cx="1812.34" cy="2741.99" r="18.0"/>
<circle cx="1832.3" cy="2780.88" r="18.0"/>
<circle cx="1852.27" cy="2786.43" r="18.0"/>
<circle cx="1872.23" cy="2796.03" r="18.0"/>
<circle cx="1892.19" cy="2806.12" r="18.0"/>
<circle cx="1912.16" cy="2812.18" r="18.0"/>
<circle cx="1932.12" cy="2815.72" r="18.0"/>
<circle cx="1962.07" cy="2818.24" r="18.0"/>
<circle cx="2001.99" cy="2819.26" r="18.0"/>
<circle cx="2041.92" cy="2822.79" r="18.0"/>
<circle cx="2081.85" cy="2820.77" r="18.0"/>
<circle cx="2121.77" cy="2819.76" r="18.0"/>
<circle cx="2161.7" cy="2816.22" r="18.0"/>
<circle cx="2201.63" cy="2810.16" r="18.0"/>
<circle cx="2241.55" cy="2814.2" r="18.0"/>
<circle cx="2281.48" cy="2805.11" r="18.0"/>
<circle cx="2321.41" cy="2796.03" r="18.0"/>
<circle cx="2421.22" cy="2770.27" r="18.0"/>
<circle cx="2620.86" cy="2734.41" r="18.0"/>
</g>
<g fill="#ff0000">
<circle cx="1672.6" cy="2768.76" r="18.0"/>
<circle cx="1692.56" cy="2764.72" r="18.0"/>
<circle cx="1712.52" cy="2820.77" r="18.0"/>
<circle cx="1732.49" cy="2782.39" r="18.0"/>
<circle cx="1752.45" cy="2814.71" r="18.0"/>
<circle cx="1772.41" cy="2782.89" r="18.0"/>
<circle cx="1792.38" cy="2817.74" r="18.0"/>
<circle cx="1812.34" cy="2798.05" r="18.0"/>
<circle cx="1832.3" cy="2792.49" r="18.0"/>
<circle cx="1852.27" cy="2792.99" r="18.0"/>
<circle cx="1872.23" cy="2803.1" r="18.0"/>
<circle cx="1892.19" cy="2803.1" r="18.0"/>
<circle cx="1912.16" cy="2802.09" r="18.0"/>
<circle cx="1932.12" cy="2800.57" r="18.0"/>
<circle cx="1962.07" cy="2791.48" r="18.0"/>
<circle cx="2001.99" cy="2783.4" r="18.0"/>
<circle cx="2041.92" cy="2781.89" r="18.0"/>
<circle cx="2081.85" cy="2782.39" r="18.0"/>
<circle cx="2121.77" cy="2788.95" r="18.0"/>
<circle cx="2161.7" cy="2790.47" r="18.0"/>
<circle cx="2201.63" cy="2796.03" r="18.0"/>
<circle cx="2241.55" cy="2805.11" r="18.0"/>
<circle cx="2281.48" cy="2798.05" r="18.0"/>
<circle cx="2321.41" cy="2795.01" r="18.0"/>
<circle cx="2421.22" cy="2795.01" r="18.0"/>
<circle cx="2620.86" cy="2786.93" r="18.0"/>
</g>
<g fill="#0000ff">
<circle cx="1732.49" cy="2802.59" r="18.0"/>
<circle cx="1752.45" cy="2803.1" r="18.0"/>
<circle cx="1772.41" cy="2798.05" r="18.0"/>
<circle cx="1792.38" cy="2789.97" r="18.0"/>
<circle cx="1812.34" cy="2789.97" r="18.0"/>
<circle cx="1832.3" cy="2780.88" r="18.0"/>
<circle cx="1852.27" cy="2814.71" r="18.0"/>
<circle cx="1872.23" cy="2796.03" r="18.0"/>
<circle cx="1892.19" cy="2806.12" r="18.0"/>
<circle cx="1912.16" cy="2789.46" r="18.0"/>
<circle cx="1932.12" cy="2771.28" r="18.0"/>
<circle cx="1962.07" cy="2817.74" r="18.0"/>
<circle cx="2001.99" cy="2798.55" r="18.0"/>
<circle cx="2041.92" cy="2785.93" r="18.0"/>
<circle cx="2081.85" cy="2783.9" r="18.0"/>
<circle cx="2121.77" cy="2781.38" r="18.0"/>
<circle cx="2161.7" cy="2792.99" r="18.0"/>
<circle cx="2201.63" cy="2783.4" r="18.0"/>
<circle cx="2241.55" cy="2792.49" r="18.0"/>
<circle cx="2281.48" cy="2792.49" r="18.0"/>
<circle cx="2321.41" cy="2794.01" r="18.0"/>
<circle cx="2421.22" cy="2799.05" r="18.0"/>
<circle cx="2620.86" cy="2801.58" r="18.0"/>
</g>
<line x1="2760.6" y1="2642" x2="3959.2" y2="2642" stroke="#000" stroke-width="5.3" stroke-dasharray="21.6 21.15"/>
<line x1="2760.6" y1="2945" x2="3959.2" y2="2945" stroke="#000" stroke-width="5.3" stroke-dasharray="21.6 21.15"/>
<g fill="#000000">
<circle cx="2850.49" cy="2924.3" r="18.0"/>
<circle cx="2870.47" cy="2844.51" r="18.0"/>
<circle cx="2890.45" cy="2781.38" r="18.0"/>
<circle cx="2910.42" cy="2758.65" r="18.0"/>
<circle cx="2930.4" cy="2727.85" r="18.0"/>
<circle cx="2950.38" cy="2714.22" r="18.0"/>
<circle cx="2970.36" cy="2725.32" r="18.0"/>
<circle cx="2990.33" cy="2722.3" r="18.0"/>
<circle cx="3010.31" cy="2737.45" r="18.0"/>
<circle cx="3030.28" cy="2791.99" r="18.0"/>
<circle cx="3050.26" cy="2805.11" r="18.0"/>
<circle cx="3070.24" cy="2810.67" r="18.0"/>
<circle cx="3090.21" cy="2818.24" r="18.0"/>
<circle cx="3110.19" cy="2821.28" r="18.0"/>
<circle cx="3130.17" cy="2831.38" r="18.0"/>
<circle cx="3160.13" cy="2839.96" r="18.0"/>
<circle cx="3200.09" cy="2833.39" r="18.0"/>
<circle cx="3240.04" cy="2829.36" r="18.0"/>
<circle cx="3279.99" cy="2832.89" r="18.0"/>
<circle cx="3319.95" cy="2838.95" r="18.0"/>
<circle cx="3359.9" cy="2826.83" r="18.0"/>
<circle cx="3399.85" cy="2822.79" r="18.0"/>
<circle cx="3439.81" cy="2822.79" r="18.0"/>
<circle cx="3479.76" cy="2811.18" r="18.0"/>
<circle cx="3519.71" cy="2804.11" r="18.0"/>
<circle cx="3619.6" cy="2766.23" r="18.0"/>
<circle cx="3819.36" cy="2701.09" r="18.0"/>
</g>
<g fill="#ff0000">
<circle cx="2870.47" cy="2771.28" r="18.0"/>
<circle cx="2890.45" cy="2744.01" r="18.0"/>
<circle cx="2910.42" cy="2838.45" r="18.0"/>
<circle cx="2930.4" cy="2796.03" r="18.0"/>
<circle cx="2950.38" cy="2813.2" r="18.0"/>
<circle cx="2970.36" cy="2774.31" r="18.0"/>
<circle cx="2990.33" cy="2819.76" r="18.0"/>
<circle cx="3010.31" cy="2809.66" r="18.0"/>
<circle cx="3030.28" cy="2791.99" r="18.0"/>
<circle cx="3050.26" cy="2801.07" r="18.0"/>
<circle cx="3070.24" cy="2805.11" r="18.0"/>
<circle cx="3090.21" cy="2808.65" r="18.0"/>
<circle cx="3110.19" cy="2807.14" r="18.0"/>
<circle cx="3130.17" cy="2802.09" r="18.0"/>
<circle cx="3160.13" cy="2797.54" r="18.0"/>
<circle cx="3200.09" cy="2786.43" r="18.0"/>
<circle cx="3240.04" cy="2785.42" r="18.0"/>
<circle cx="3279.99" cy="2790.97" r="18.0"/>
<circle cx="3319.95" cy="2794.01" r="18.0"/>
<circle cx="3359.9" cy="2794.01" r="18.0"/>
<circle cx="3399.85" cy="2794.01" r="18.0"/>
<circle cx="3439.81" cy="2797.03" r="18.0"/>
<circle cx="3479.76" cy="2787.95" r="18.0"/>
<circle cx="3519.71" cy="2792.99" r="18.0"/>
<circle cx="3619.6" cy="2781.38" r="18.0"/>
<circle cx="3819.36" cy="2766.23" r="18.0"/>
</g>
<g fill="#0000ff">
<circle cx="2930.4" cy="2803.1" r="18.0"/>
<circle cx="2950.38" cy="2800.07" r="18.0"/>
<circle cx="2970.36" cy="2786.93" r="18.0"/>
<circle cx="2990.33" cy="2794.51" r="18.0"/>
<circle cx="3010.31" cy="2794.01" r="18.0"/>
<circle cx="3030.28" cy="2791.99" r="18.0"/>
<circle cx="3050.26" cy="2805.11" r="18.0"/>
<circle cx="3070.24" cy="2800.07" r="18.0"/>
<circle cx="3090.21" cy="2804.11" r="18.0"/>
<circle cx="3110.19" cy="2788.95" r="18.0"/>
<circle cx="3130.17" cy="2764.72" r="18.0"/>
<circle cx="3160.13" cy="2817.24" r="18.0"/>
<circle cx="3200.09" cy="2798.05" r="18.0"/>
<circle cx="3240.04" cy="2788.45" r="18.0"/>
<circle cx="3279.99" cy="2788.95" r="18.0"/>
<circle cx="3319.95" cy="2786.93" r="18.0"/>
<circle cx="3359.9" cy="2781.38" r="18.0"/>
<circle cx="3399.85" cy="2779.36" r="18.0"/>
<circle cx="3439.81" cy="2791.99" r="18.0"/>
<circle cx="3479.76" cy="2795.01" r="18.0"/>
<circle cx="3519.71" cy="2804.11" r="18.0"/>
<circle cx="3619.6" cy="2796.03" r="18.0"/>
<circle cx="3819.36" cy="2799.05" r="18.0"/>
</g>
<line x1="364" y1="3753.18" x2="1562.8" y2="3753.18" stroke="#000" stroke-width="5.3" stroke-dasharray="21.6 21.15"/>
<line x1="364" y1="4056.32" x2="1562.8" y2="4056.32" stroke="#000" stroke-width="5.3" stroke-dasharray="21.6 21.15"/>
<g fill="#000000">
<circle cx="453.91" cy="3971.95" r="18.0"/>
<circle cx="473.89" cy="3934.05" r="18.0"/>
<circle cx="493.87" cy="3907.78" r="18.0"/>
<circle cx="513.85" cy="3890.1" r="18.0"/>
<circle cx="533.83" cy="3875.95" r="18.0"/>
<circle cx="553.81" cy="3864.84" r="18.0"/>
<circle cx="573.79" cy="3868.37" r="18.0"/>
<circle cx="593.77" cy="3869.38" r="18.0"/>
<circle cx="613.75" cy="3863.83" r="18.0"/>
<circle cx="633.73" cy="3896.16" r="18.0"/>
<circle cx="653.71" cy="3901.21" r="18.0"/>
<circle cx="673.69" cy="3901.21" r="18.0"/>
<circle cx="693.67" cy="3908.29" r="18.0"/>
<circle cx="713.65" cy="3905.76" r="18.0"/>
<circle cx="733.63" cy="3916.88" r="18.0"/>
<circle cx="763.6" cy="3917.89" r="18.0"/>
<circle cx="803.56" cy="3921.93" r="18.0"/>
<circle cx="843.52" cy="3917.38" r="18.0"/>
<circle cx="883.48" cy="3923.95" r="18.0"/>
<circle cx="923.44" cy="3926.47" r="18.0"/>
<circle cx="963.4" cy="3918.9" r="18.0"/>
<circle cx="1003.36" cy="3922.94" r="18.0"/>
<circle cx="1043.32" cy="3911.82" r="18.0"/>
<circle cx="1083.28" cy="3907.28" r="18.0"/>
<circle cx="1123.24" cy="3913.84" r="18.0"/>
<circle cx="1223.14" cy="3906.77" r="18.0"/>
<circle cx="1422.94" cy="3887.57" r="18.0"/>
</g>
<g fill="#ff0000">
<circle cx="473.89" cy="3862.82" r="18.0"/>
<circle cx="493.87" cy="3890.1" r="18.0"/>
<circle cx="513.85" cy="3931.53" r="18.0"/>
<circle cx="533.83" cy="3900.2" r="18.0"/>
<circle cx="553.81" cy="3931.53" r="18.0"/>
<circle cx="573.79" cy="3906.77" r="18.0"/>
<circle cx="593.77" cy="3934.05" r="18.0"/>
<circle cx="613.75" cy="3911.82" r="18.0"/>
<circle cx="633.73" cy="3909.3" r="18.0"/>
<circle cx="653.71" cy="3912.33" r="18.0"/>
<circle cx="673.69" cy="3914.35" r="18.0"/>
<circle cx="693.67" cy="3934.56" r="18.0"/>
<circle cx="713.65" cy="3912.83" r="18.0"/>
<circle cx="733.63" cy="3917.89" r="18.0"/>
<circle cx="763.6" cy="3897.68" r="18.0"/>
<circle cx="803.56" cy="3889.09" r="18.0"/>
<circle cx="843.52" cy="3893.64" r="18.0"/>
<circle cx="883.48" cy="3906.77" r="18.0"/>
<circle cx="923.44" cy="3900.71" r="18.0"/>
<circle cx="963.4" cy="3894.14" r="18.0"/>
<circle cx="1003.36" cy="3900.71" r="18.0"/>
<circle cx="1043.32" cy="3895.15" r="18.0"/>
<circle cx="1083.28" cy="3896.67" r="18.0"/>
<circle cx="1123.24" cy="3898.69" r="18.0"/>
<circle cx="1223.14" cy="3893.13" r="18.0"/>
<circle cx="1422.94" cy="3889.59" r="18.0"/>
</g>
<g fill="#0000ff">
<circle cx="533.83" cy="3897.68" r="18.0"/>
<circle cx="553.81" cy="3887.57" r="18.0"/>
<circle cx="573.79" cy="3882.01" r="18.0"/>
<circle cx="593.77" cy="3869.38" r="18.0"/>
<circle cx="613.75" cy="3872.92" r="18.0"/>
<circle cx="633.73" cy="3898.69" r="18.0"/>
<circle cx="653.71" cy="3906.27" r="18.0"/>
<circle cx="673.69" cy="3910.31" r="18.0"/>
<circle cx="693.67" cy="3934.56" r="18.0"/>
<circle cx="713.65" cy="3933.55" r="18.0"/>
<circle cx="733.63" cy="3916.88" r="18.0"/>
<circle cx="763.6" cy="3936.58" r="18.0"/>
<circle cx="803.56" cy="3920.92" r="18.0"/>
<circle cx="843.52" cy="3909.8" r="18.0"/>
<circle cx="883.48" cy="3906.77" r="18.0"/>
<circle cx="923.44" cy="3902.73" r="18.0"/>
<circle cx="963.4" cy="3898.69" r="18.0"/>
<circle cx="1003.36" cy="3909.8" r="18.0"/>
<circle cx="1043.32" cy="3899.19" r="18.0"/>
<circle cx="1083.28" cy="3896.16" r="18.0"/>
<circle cx="1123.24" cy="3903.23" r="18.0"/>
<circle cx="1223.14" cy="3906.77" r="18.0"/>
<circle cx="1422.94" cy="3893.13" r="18.0"/>
</g>
<line x1="1562.8" y1="3753.18" x2="2760.6" y2="3753.18" stroke="#000" stroke-width="5.3" stroke-dasharray="21.6 21.15"/>
<line x1="1562.8" y1="4056.32" x2="2760.6" y2="4056.32" stroke="#000" stroke-width="5.3" stroke-dasharray="21.6 21.15"/>
<g fill="#000000">
<circle cx="1652.63" cy="3975.48" r="18.0"/>
<circle cx="1672.6" cy="3935.06" r="18.0"/>
<circle cx="1692.56" cy="3910.31" r="18.0"/>
<circle cx="1712.52" cy="3886.06" r="18.0"/>
<circle cx="1732.49" cy="3873.43" r="18.0"/>
<circle cx="1752.45" cy="3874.44" r="18.0"/>
<circle cx="1772.41" cy="3865.85" r="18.0"/>
<circle cx="1792.38" cy="3869.38" r="18.0"/>
<circle cx="1812.34" cy="3863.83" r="18.0"/>
<circle cx="1832.3" cy="3883.03" r="18.0"/>
<circle cx="1852.27" cy="3889.59" r="18.0"/>
<circle cx="1872.23" cy="3900.71" r="18.0"/>
<circle cx="1892.19" cy="3921.93" r="18.0"/>
<circle cx="1912.16" cy="3914.35" r="18.0"/>
<circle cx="1932.12" cy="3920.41" r="18.0"/>
<circle cx="1962.07" cy="3917.89" r="18.0"/>
<circle cx="2001.99" cy="3920.41" r="18.0"/>
<circle cx="2041.92" cy="3926.98" r="18.0"/>
<circle cx="2081.85" cy="3920.92" r="18.0"/>
<circle cx="2121.77" cy="3917.38" r="18.0"/>
<circle cx="2161.7" cy="3917.38" r="18.0"/>
<circle cx="2201.63" cy="3913.84" r="18.0"/>
<circle cx="2241.55" cy="3919.91" r="18.0"/>
<circle cx="2281.48" cy="3915.36" r="18.0"/>
<circle cx="2321.41" cy="3916.88" r="18.0"/>
<circle cx="2421.22" cy="3895.15" r="18.0"/>
<circle cx="2620.86" cy="3868.37" r="18.0"/>
</g>
<g fill="#ff0000">
<circle cx="1672.6" cy="3861.81" r="18.0"/>
<circle cx="1692.56" cy="3886.06" r="18.0"/>
<circle cx="1712.52" cy="3914.35" r="18.0"/>
<circle cx="1732.49" cy="3921.93" r="18.0"/>
<circle cx="1752.45" cy="3941.63" r="18.0"/>
<circle cx="1772.41" cy="3900.71" r="18.0"/>
<circle cx="1792.38" cy="3931.02" r="18.0"/>
<circle cx="1812.34" cy="3913.84" r="18.0"/>
<circle cx="1832.3" cy="3902.73" r="18.0"/>
<circle cx="1852.27" cy="3895.15" r="18.0"/>
<circle cx="1872.23" cy="3909.3" r="18.0"/>
<circle cx="1892.19" cy="3913.84" r="18.0"/>
<circle cx="1912.16" cy="3914.35" r="18.0"/>
<circle cx="1932.12" cy="3915.36" r="18.0"/>
<circle cx="1962.07" cy="3897.68" r="18.0"/>
<circle cx="2001.99" cy="3896.16" r="18.0"/>
<circle cx="2041.92" cy="3901.21" r="18.0"/>
<circle cx="2081.85" cy="3892.12" r="18.0"/>
<circle cx="2121.77" cy="3893.13" r="18.0"/>
<circle cx="2161.7" cy="3899.19" r="18.0"/>
<circle cx="2201.63" cy="3906.77" r="18.0"/>
<circle cx="2241.55" cy="3910.81" r="18.0"/>
<circle cx="2281.48" cy="3908.79" r="18.0"/>
<circle cx="2321.41" cy="3909.3" r="18.0"/>
<circle cx="2421.22" cy="3899.19" r="18.0"/>
<circle cx="2620.86" cy="3891.11" r="18.0"/>
</g>
<g fill="#0000ff">
<circle cx="1732.49" cy="3914.85" r="18.0"/>
<circle cx="1752.45" cy="3903.74" r="18.0"/>
<circle cx="1772.41" cy="3896.16" r="18.0"/>
<circle cx="1792.38" cy="3905.76" r="18.0"/>
<circle cx="1812.34" cy="3882.52" r="18.0"/>
<circle cx="1832.3" cy="3883.03" r="18.0"/>
<circle cx="1852.27" cy="3933.55" r="18.0"/>
<circle cx="1872.23" cy="3910.81" r="18.0"/>
<circle cx="1892.19" cy="3921.93" r="18.0"/>
<circle cx="1912.16" cy="3885.55" r="18.0"/>
<circle cx="1932.12" cy="3907.28" r="18.0"/>
<circle cx="1962.07" cy="3932.03" r="18.0"/>
<circle cx="2001.99" cy="3915.86" r="18.0"/>
<circle cx="2041.92" cy="3898.18" r="18.0"/>
<circle cx="2081.85" cy="3892.12" r="18.0"/>
<circle cx="2121.77" cy="3898.18" r="18.0"/>
<circle cx="2161.7" cy="3895.15" r="18.0"/>
<circle cx="2201.63" cy="3896.16" r="18.0"/>
<circle cx="2241.55" cy="3911.82" r="18.0"/>
<circle cx="2281.48" cy="3907.78" r="18.0"/>
<circle cx="2321.41" cy="3916.88" r="18.0"/>
<circle cx="2421.22" cy="3904.24" r="18.0"/>
<circle cx="2620.86" cy="3899.19" r="18.0"/>
</g>
<line x1="2760.6" y1="3753.18" x2="3959.2" y2="3753.18" stroke="#000" stroke-width="5.3" stroke-dasharray="21.6 21.15"/>
<line x1="2760.6" y1="4056.32" x2="3959.2" y2="4056.32" stroke="#000" stroke-width="5.3" stroke-dasharray="21.6 21.15"/>
<g fill="#000000">
<circle cx="2850.49" cy="3998.22" r="18.0"/>
<circle cx="2870.47" cy="3942.64" r="18.0"/>
<circle cx="2890.45" cy="3905.76" r="18.0"/>
<circle cx="2910.42" cy="3887.57" r="18.0"/>
<circle cx="2930.4" cy="3858.27" r="18.0"/>
<circle cx="2950.38" cy="3856.75" r="18.0"/>
<circle cx="2970.36" cy="3858.27" r="18.0"/>
<circle cx="2990.33" cy="3864.33" r="18.0"/>
<circle cx="3010.31" cy="3852.71" r="18.0"/>
<circle cx="3030.28" cy="3863.32" r="18.0"/>
<circle cx="3050.26" cy="3897.68" r="18.0"/>
<circle cx="3070.24" cy="3909.3" r="18.0"/>
<circle cx="3090.21" cy="3904.75" r="18.0"/>
<circle cx="3110.19" cy="3915.36" r="18.0"/>
<circle cx="3130.17" cy="3922.43" r="18.0"/>
<circle cx="3160.13" cy="3922.94" r="18.0"/>
<circle cx="3200.09" cy="3924.45" r="18.0"/>
<circle cx="3240.04" cy="3925.97" r="18.0"/>
<circle cx="3279.99" cy="3920.92" r="18.0"/>
<circle cx="3319.95" cy="3934.56" r="18.0"/>
<circle cx="3359.9" cy="3934.05" r="18.0"/>
<circle cx="3399.85" cy="3932.54" r="18.0"/>
<circle cx="3439.81" cy="3921.93" r="18.0"/>
<circle cx="3479.76" cy="3911.82" r="18.0"/>
<circle cx="3519.71" cy="3918.9" r="18.0"/>
<circle cx="3619.6" cy="3893.13" r="18.0"/>
<circle cx="3819.36" cy="3857.76" r="18.0"/>
</g>
<g fill="#ff0000">
<circle cx="2870.47" cy="3878.98" r="18.0"/>
<circle cx="2890.45" cy="3869.38" r="18.0"/>
<circle cx="2910.42" cy="3930.01" r="18.0"/>
<circle cx="2930.4" cy="3925.46" r="18.0"/>
<circle cx="2950.38" cy="3923.44" r="18.0"/>
<circle cx="2970.36" cy="3903.74" r="18.0"/>
<circle cx="2990.33" cy="3924.96" r="18.0"/>
<circle cx="3010.31" cy="3911.82" r="18.0"/>
<circle cx="3030.28" cy="3912.83" r="18.0"/>
<circle cx="3050.26" cy="3910.81" r="18.0"/>
<circle cx="3070.24" cy="3917.89" r="18.0"/>
<circle cx="3090.21" cy="3916.88" r="18.0"/>
<circle cx="3110.19" cy="3907.78" r="18.0"/>
<circle cx="3130.17" cy="3914.85" r="18.0"/>
<circle cx="3160.13" cy="3898.18" r="18.0"/>
<circle cx="3200.09" cy="3896.16" r="18.0"/>
<circle cx="3240.04" cy="3892.12" r="18.0"/>
<circle cx="3279.99" cy="3891.11" r="18.0"/>
<circle cx="3319.95" cy="3904.24" r="18.0"/>
<circle cx="3359.9" cy="3913.84" r="18.0"/>
<circle cx="3399.85" cy="3907.28" r="18.0"/>
<circle cx="3439.81" cy="3898.18" r="18.0"/>
<circle cx="3479.76" cy="3890.1" r="18.0"/>
<circle cx="3519.71" cy="3902.73" r="18.0"/>
<circle cx="3619.6" cy="3898.18" r="18.0"/>
<circle cx="3819.36" cy="3891.11" r="18.0"/>
</g>
<g fill="#0000ff">
<circle cx="2930.4" cy="3895.15" r="18.0"/>
<circle cx="2950.38" cy="3912.33" r="18.0"/>
<circle cx="2970.36" cy="3868.88" r="18.0"/>
<circle cx="2990.33" cy="3881.51" r="18.0"/>
<circle cx="3010.31" cy="3895.66" r="18.0"/>
<circle cx="3030.28" cy="3863.32" r="18.0"/>
<circle cx="3050.26" cy="3917.89" r="18.0"/>
<circle cx="3070.24" cy="3943.15" r="18.0"/>
<circle cx="3090.21" cy="3926.98" r="18.0"/>
<circle cx="3110.19" cy="3915.36" r="18.0"/>
<circle cx="3130.17" cy="3902.73" r="18.0"/>
<circle cx="3160.13" cy="3943.65" r="18.0"/>
<circle cx="3200.09" cy="3923.44" r="18.0"/>
<circle cx="3240.04" cy="3915.86" r="18.0"/>
<circle cx="3279.99" cy="3902.22" r="18.0"/>
<circle cx="3319.95" cy="3888.08" r="18.0"/>
<circle cx="3359.9" cy="3895.15" r="18.0"/>
<circle cx="3399.85" cy="3904.75" r="18.0"/>
<circle cx="3439.81" cy="3894.14" r="18.0"/>
<circle cx="3479.76" cy="3894.14" r="18.0"/>
<circle cx="3519.71" cy="3918.9" r="18.0"/>
<circle cx="3619.6" cy="3904.75" r="18.0"/>
<circle cx="3819.36" cy="3900.71" r="18.0"/>
</g>
<path d="M364 1076.5h46.8M1562.8 1076.5h-46.8M364 1026.01h23.4M1562.8 1026.01h-23.4M364 975.51h23.4M1562.8 975.51h-23.4M364 925.02h23.4M1562.8 925.02h-23.4M364 874.52h23.4M1562.8 874.52h-23.4M364 824.03h46.8M1562.8 824.03h-46.8M364 773.53h23.4M1562.8 773.53h-23.4M364 723.04h23.4M1562.8 723.04h-23.4M364 672.54h23.4M1562.8 672.54h-23.4M364 622.05h23.4M1562.8 622.05h-23.4M364 571.55h46.8M1562.8 571.55h-46.8M364 521.05h23.4M1562.8 521.05h-23.4M364 470.56h23.4M1562.8 470.56h-23.4M364 420.06h23.4M1562.8 420.06h-23.4M364 369.57h23.4M1562.8 369.57h-23.4M364 319.07h46.8M1562.8 319.07h-46.8M364 268.58h23.4M1562.8 268.58h-23.4M364 218.08h23.4M1562.8 218.08h-23.4M364 167.59h23.4M1562.8 167.59h-23.4M364 117.09h23.4M1562.8 117.09h-23.4M364 66.6h46.8M1562.8 66.6h-46.8M423.94 1127v-12.75M423.94 16.1v12.75M503.86 1127v-12.75M503.86 16.1v12.75M583.78 1127v-12.75M583.78 16.1v12.75M663.7 1127v-12.75M663.7 16.1v12.75M743.62 1127v-25.5M743.62 16.1v25.5M823.54 1127v-12.75M823.54 16.1v12.75M903.46 1127v-12.75M903.46 16.1v12.75M983.38 1127v-12.75M983.38 16.1v12.75M1063.3 1127v-12.75M1063.3 16.1v12.75M1143.22 1127v-25.5M1143.22 16.1v25.5M1223.14 1127v-12.75M1223.14 16.1v12.75M1303.06 1127v-12.75M1303.06 16.1v12.75M1382.98 1127v-12.75M1382.98 16.1v12.75M1462.9 1127v-12.75M1462.9 16.1v12.75M1542.82 1127v-25.5M1542.82 16.1v25.5M1562.8 1076.5h34.3M2760.6 1076.5h-34.3M1562.8 1026.01h17.15M2760.6 1026.01h-17.15M1562.8 975.51h17.15M2760.6 975.51h-17.15M1562.8 925.02h17.15M2760.6 925.02h-17.15M1562.8 874.52h17.15M2760.6 874.52h-17.15M1562.8 824.03h34.3M2760.6 824.03h-34.3M1562.8 773.53h17.15M2760.6 773.53h-17.15M1562.8 723.04h17.15M2760.6 723.04h-17.15M1562.8 672.54h17.15M2760.6 672.54h-17.15M1562.8 622.05h17.15M2760.6 622.05h-17.15M1562.8 571.55h34.3M2760.6 571.55h-34.3M1562.8 521.05h17.15M2760.6 521.05h-17.15M1562.8 470.56h17.15M2760.6 470.56h-17.15M1562.8 420.06h17.15M2760.6 420.06h-17.15M1562.8 369.57h17.15M2760.6 369.57h-17.15M1562.8 319.07h34.3M2760.6 319.07h-34.3M1562.8 268.58h17.15M2760.6 268.58h-17.15M1562.8 218.08h17.15M2760.6 218.08h-17.15M1562.8 167.59h17.15M2760.6 167.59h-17.15M1562.8 117.09h17.15M2760.6 117.09h-17.15M1562.8 66.6h34.3M2760.6 66.6h-34.3M1622.69 1127v-16.75M1622.69 16.1v16.75M1702.54 1127v-16.75M1702.54 16.1v16.75M1782.4 1127v-16.75M1782.4 16.1v16.75M1862.25 1127v-16.75M1862.25 16.1v16.75M1942.1 1127v-33.5M1942.1 16.1v33.5M2021.96 1127v-16.75M2021.96 16.1v16.75M2101.81 1127v-16.75M2101.81 16.1v16.75M2181.66 1127v-16.75M2181.66 16.1v16.75M2261.52 1127v-16.75M2261.52 16.1v16.75M2341.37 1127v-33.5M2341.37 16.1v33.5M2421.22 1127v-16.75M2421.22 16.1v16.75M2501.08 1127v-16.75M2501.08 16.1v16.75M2580.93 1127v-16.75M2580.93 16.1v16.75M2660.78 1127v-16.75M2660.78 16.1v16.75M2740.64 1127v-33.5M2740.64 16.1v33.5M2760.6 1076.5h36.3M3959.2 1076.5h-36.3M2760.6 1026.01h18.15M3959.2 1026.01h-18.15M2760.6 975.51h18.15M3959.2 975.51h-18.15M2760.6 925.02h18.15M3959.2 925.02h-18.15M2760.6 874.52h18.15M3959.2 874.52h-18.15M2760.6 824.03h36.3M3959.2 824.03h-36.3M2760.6 773.53h18.15M3959.2 773.53h-18.15M2760.6 723.04h18.15M3959.2 723.04h-18.15M2760.6 672.54h18.15M3959.2 672.54h-18.15M2760.6 622.05h18.15M3959.2 622.05h-18.15M2760.6 571.55h36.3M3959.2 571.55h-36.3M2760.6 521.05h18.15M3959.2 521.05h-18.15M2760.6 470.56h18.15M3959.2 470.56h-18.15M2760.6 420.06h18.15M3959.2 420.06h-18.15M2760.6 369.57h18.15M3959.2 369.57h-18.15M2760.6 319.07h36.3M3959.2 319.07h-36.3M2760.6 268.58h18.15M3959.2 268.58h-18.15M2760.6 218.08h18.15M3959.2 218.08h-18.15M2760.6 167.59h18.15M3959.2 167.59h-18.15M2760.6 117.09h18.15M3959.2 117.09h-18.15M2760.6 66.6h36.3M3959.2 66.6h-36.3M2820.53 1127v-16.85M2820.53 16.1v16.85M2900.44 1127v-16.85M2900.44 16.1v16.85M2980.34 1127v-16.85M2980.34 16.1v16.85M3060.25 1127v-16.85M3060.25 16.1v16.85M3140.16 1127v-33.7M3140.16 16.1v33.7M3220.06 1127v-16.85M3220.06 16.1v16.85M3299.97 1127v-16.85M3299.97 16.1v16.85M3379.88 1127v-16.85M3379.88 16.1v16.85M3459.78 1127v-16.85M3459.78 16.1v16.85M3539.69 1127v-33.7M3539.69 16.1v33.7M3619.6 1127v-16.85M3619.6 16.1v16.85M3699.5 1127v-16.85M3699.5 16.1v16.85M3779.41 1127v-16.85M3779.41 16.1v16.85M3859.32 1127v-16.85M3859.32 16.1v16.85M3939.22 1127v-33.7M3939.22 16.1v33.7M364 2187.5h46.8M1562.8 2187.5h-46.8M364 2137h23.4M1562.8 2137h-23.4M364 2086.5h23.4M1562.8 2086.5h-23.4M364 2036h23.4M1562.8 2036h-23.4M364 1985.5h23.4M1562.8 1985.5h-23.4M364 1935h46.8M1562.8 1935h-46.8M364 1884.5h23.4M1562.8 1884.5h-23.4M364 1834h23.4M1562.8 1834h-23.4M364 1783.5h23.4M1562.8 1783.5h-23.4M364 1733h23.4M1562.8 1733h-23.4M364 1682.5h46.8M1562.8 1682.5h-46.8M364 1632h23.4M1562.8 1632h-23.4M364 1581.5h23.4M1562.8 1581.5h-23.4M364 1531h23.4M1562.8 1531h-23.4M364 1480.5h23.4M1562.8 1480.5h-23.4M364 1430h46.8M1562.8 1430h-46.8M364 1379.5h23.4M1562.8 1379.5h-23.4M364 1329h23.4M1562.8 1329h-23.4M364 1278.5h23.4M1562.8 1278.5h-23.4M364 1228h23.4M1562.8 1228h-23.4M364 1177.5h46.8M1562.8 1177.5h-46.8M423.94 2238v-12.75M423.94 1127v12.75M503.86 2238v-12.75M503.86 1127v12.75M583.78 2238v-12.75M583.78 1127v12.75M663.7 2238v-12.75M663.7 1127v12.75M743.62 2238v-25.5M743.62 1127v25.5M823.54 2238v-12.75M823.54 1127v12.75M903.46 2238v-12.75M903.46 1127v12.75M983.38 2238v-12.75M983.38 1127v12.75M1063.3 2238v-12.75M1063.3 1127v12.75M1143.22 2238v-25.5M1143.22 1127v25.5M1223.14 2238v-12.75M1223.14 1127v12.75M1303.06 2238v-12.75M1303.06 1127v12.75M1382.98 2238v-12.75M1382.98 1127v12.75M1462.9 2238v-12.75M1462.9 1127v12.75M1542.82 2238v-25.5M1542.82 1127v25.5M1562.8 2187.5h34.3M2760.6 2187.5h-34.3M1562.8 2137h17.15M2760.6 2137h-17.15M1562.8 2086.5h17.15M2760.6 2086.5h-17.15M1562.8 2036h17.15M2760.6 2036h-17.15M1562.8 1985.5h17.15M2760.6 1985.5h-17.15M1562.8 1935h34.3M2760.6 1935h-34.3M1562.8 1884.5h17.15M2760.6 1884.5h-17.15M1562.8 1834h17.15M2760.6 1834h-17.15M1562.8 1783.5h17.15M2760.6 1783.5h-17.15M1562.8 1733h17.15M2760.6 1733h-17.15M1562.8 1682.5h34.3M2760.6 1682.5h-34.3M1562.8 1632h17.15M2760.6 1632h-17.15M1562.8 1581.5h17.15M2760.6 1581.5h-17.15M1562.8 1531h17.15M2760.6 1531h-17.15M1562.8 1480.5h17.15M2760.6 1480.5h-17.15M1562.8 1430h34.3M2760.6 1430h-34.3M1562.8 1379.5h17.15M2760.6 1379.5h-17.15M1562.8 1329h17.15M2760.6 1329h-17.15M1562.8 1278.5h17.15M2760.6 1278.5h-17.15M1562.8 1228h17.15M2760.6 1228h-17.15M1562.8 1177.5h34.3M2760.6 1177.5h-34.3M1622.69 2238v-16.75M1622.69 1127v16.75M1702.54 2238v-16.75M1702.54 1127v16.75M1782.4 2238v-16.75M1782.4 1127v16.75M1862.25 2238v-16.75M1862.25 1127v16.75M1942.1 2238v-33.5M1942.1 1127v33.5M2021.96 2238v-16.75M2021.96 1127v16.75M2101.81 2238v-16.75M2101.81 1127v16.75M2181.66 2238v-16.75M2181.66 1127v16.75M2261.52 2238v-16.75M2261.52 1127v16.75M2341.37 2238v-33.5M2341.37 1127v33.5M2421.22 2238v-16.75M2421.22 1127v16.75M2501.08 2238v-16.75M2501.08 1127v16.75M2580.93 2238v-16.75M2580.93 1127v16.75M2660.78 2238v-16.75M2660.78 1127v16.75M2740.64 2238v-33.5M2740.64 1127v33.5M2760.6 2187.5h36.3M3959.2 2187.5h-36.3M2760.6 2137h18.15M3959.2 2137h-18.15M2760.6 2086.5h18.15M3959.2 2086.5h-18.15M2760.6 2036h18.15M3959.2 2036h-18.15M2760.6 1985.5h18.15M3959.2 1985.5h-18.15M2760.6 1935h36.3M3959.2 1935h-36.3M2760.6 1884.5h18.15M3959.2 1884.5h-18.15M2760.6 1834h18.15M3959.2 1834h-18.15M2760.6 1783.5h18.15M3959.2 1783.5h-18.15M2760.6 1733h18.15M3959.2 1733h-18.15M2760.6 1682.5h36.3M3959.2 1682.5h-36.3M2760.6 1632h18.15M3959.2 1632h-18.15M2760.6 1581.5h18.15M3959.2 1581.5h-18.15M2760.6 1531h18.15M3959.2 1531h-18.15M2760.6 1480.5h18.15M3959.2 1480.5h-18.15M2760.6 1430h36.3M3959.2 1430h-36.3M2760.6 1379.5h18.15M3959.2 1379.5h-18.15M2760.6 1329h18.15M3959.2 1329h-18.15M2760.6 1278.5h18.15M3959.2 1278.5h-18.15M2760.6 1228h18.15M3959.2 1228h-18.15M2760.6 1177.5h36.3M3959.2 1177.5h-36.3M2820.53 2238v-16.85M2820.53 1127v16.85M2900.44 2238v-16.85M2900.44 1127v16.85M2980.34 2238v-16.85M2980.34 1127v16.85M3060.25 2238v-16.85M3060.25 1127v16.85M3140.16 2238v-33.7M3140.16 1127v33.7M3220.06 2238v-16.85M3220.06 1127v16.85M3299.97 2238v-16.85M3299.97 1127v16.85M3379.88 2238v-16.85M3379.88 1127v16.85M3459.78 2238v-16.85M3459.78 1127v16.85M3539.69 2238v-33.7M3539.69 1127v33.7M3619.6 2238v-16.85M3619.6 1127v16.85M3699.5 2238v-16.85M3699.5 1127v16.85M3779.41 2238v-16.85M3779.41 1127v16.85M3859.32 2238v-16.85M3859.32 1127v16.85M3939.22 2238v-33.7M3939.22 1127v33.7M364 3298.5h46.8M1562.8 3298.5h-46.8M364 3248h23.4M1562.8 3248h-23.4M364 3197.5h23.4M1562.8 3197.5h-23.4M364 3147h23.4M1562.8 3147h-23.4M364 3096.5h23.4M1562.8 3096.5h-23.4M364 3046h46.8M1562.8 3046h-46.8M364 2995.5h23.4M1562.8 2995.5h-23.4M364 2945h23.4M1562.8 2945h-23.4M364 2894.5h23.4M1562.8 2894.5h-23.4M364 2844h23.4M1562.8 2844h-23.4M364 2793.5h46.8M1562.8 2793.5h-46.8M364 2743h23.4M1562.8 2743h-23.4M364 2692.5h23.4M1562.8 2692.5h-23.4M364 2642h23.4M1562.8 2642h-23.4M364 2591.5h23.4M1562.8 2591.5h-23.4M364 2541h46.8M1562.8 2541h-46.8M364 2490.5h23.4M1562.8 2490.5h-23.4M364 2440h23.4M1562.8 2440h-23.4M364 2389.5h23.4M1562.8 2389.5h-23.4M364 2339h23.4M1562.8 2339h-23.4M364 2288.5h46.8M1562.8 2288.5h-46.8M423.94 3349v-12.75M423.94 2238v12.75M503.86 3349v-12.75M503.86 2238v12.75M583.78 3349v-12.75M583.78 2238v12.75M663.7 3349v-12.75M663.7 2238v12.75M743.62 3349v-25.5M743.62 2238v25.5M823.54 3349v-12.75M823.54 2238v12.75M903.46 3349v-12.75M903.46 2238v12.75M983.38 3349v-12.75M983.38 2238v12.75M1063.3 3349v-12.75M1063.3 2238v12.75M1143.22 3349v-25.5M1143.22 2238v25.5M1223.14 3349v-12.75M1223.14 2238v12.75M1303.06 3349v-12.75M1303.06 2238v12.75M1382.98 3349v-12.75M1382.98 2238v12.75M1462.9 3349v-12.75M1462.9 2238v12.75M1542.82 3349v-25.5M1542.82 2238v25.5M1562.8 3298.5h34.3M2760.6 3298.5h-34.3M1562.8 3248h17.15M2760.6 3248h-17.15M1562.8 3197.5h17.15M2760.6 3197.5h-17.15M1562.8 3147h17.15M2760.6 3147h-17.15M1562.8 3096.5h17.15M2760.6 3096.5h-17.15M1562.8 3046h34.3M2760.6 3046h-34.3M1562.8 2995.5h17.15M2760.6 2995.5h-17.15M1562.8 2945h17.15M2760.6 2945h-17.15M1562.8 2894.5h17.15M2760.6 2894.5h-17.15M1562.8 2844h17.15M2760.6 2844h-17.15M1562.8 2793.5h34.3M2760.6 2793.5h-34.3M1562.8 2743h17.15M2760.6 2743h-17.15M1562.8 2692.5h17.15M2760.6 2692.5h-17.15M1562.8 2642h17.15M2760.6 2642h-17.15M1562.8 2591.5h17.15M2760.6 2591.5h-17.15M1562.8 2541h34.3M2760.6 2541h-34.3M1562.8 2490.5h17.15M2760.6 2490.5h-17.15M1562.8 2440h17.15M2760.6 2440h-17.15M1562.8 2389.5h17.15M2760.6 2389.5h-17.15M1562.8 2339h17.15M2760.6 2339h-17.15M1562.8 2288.5h34.3M2760.6 2288.5h-34.3M1622.69 3349v-16.75M1622.69 2238v16.75M1702.54 3349v-16.75M1702.54 2238v16.75M1782.4 3349v-16.75M1782.4 2238v16.75M1862.25 3349v-16.75M1862.25 2238v16.75M1942.1 3349v-33.5M1942.1 2238v33.5M2021.96 3349v-16.75M2021.96 2238v16.75M2101.81 3349v-16.75M2101.81 2238v16.75M2181.66 3349v-16.75M2181.66 2238v16.75M2261.52 3349v-16.75M2261.52 2238v16.75M2341.37 3349v-33.5M2341.37 2238v33.5M2421.22 3349v-16.75M2421.22 2238v16.75M2501.08 3349v-16.75M2501.08 2238v16.75M2580.93 3349v-16.75M2580.93 2238v16.75M2660.78 3349v-16.75M2660.78 2238v16.75M2740.64 3349v-33.5M2740.64 2238v33.5M2760.6 3298.5h36.3M3959.2 3298.5h-36.3M2760.6 3248h18.15M3959.2 3248h-18.15M2760.6 3197.5h18.15M3959.2 3197.5h-18.15M2760.6 3147h18.15M3959.2 3147h-18.15M2760.6 3096.5h18.15M3959.2 3096.5h-18.15M2760.6 3046h36.3M3959.2 3046h-36.3M2760.6 2995.5h18.15M3959.2 2995.5h-18.15M2760.6 2945h18.15M3959.2 2945h-18.15M2760.6 2894.5h18.15M3959.2 2894.5h-18.15M2760.6 2844h18.15M3959.2 2844h-18.15M2760.6 2793.5h36.3M3959.2 2793.5h-36.3M2760.6 2743h18.15M3959.2 2743h-18.15M2760.6 2692.5h18.15M3959.2 2692.5h-18.15M2760.6 2642h18.15M3959.2 2642h-18.15M2760.6 2591.5h18.15M3959.2 2591.5h-18.15M2760.6 2541h36.3M3959.2 2541h-36.3M2760.6 2490.5h18.15M3959.2 2490.5h-18.15M2760.6 2440h18.15M3959.2 2440h-18.15M2760.6 2389.5h18.15M3959.2 2389.5h-18.15M2760.6 2339h18.15M3959.2 2339h-18.15M2760.6 2288.5h36.3M3959.2 2288.5h-36.3M2820.53 3349v-16.85M2820.53 2238v16.85M2900.44 3349v-16.85M2900.44 2238v16.85M2980.34 3349v-16.85M2980.34 2238v16.85M3060.25 3349v-16.85M3060.25 2238v16.85M3140.16 3349v-33.7M3140.16 2238v33.7M3220.06 3349v-16.85M3220.06 2238v16.85M3299.97 3349v-16.85M3299.97 2238v16.85M3379.88 3349v-16.85M3379.88 2238v16.85M3459.78 3349v-16.85M3459.78 2238v16.85M3539.69 3349v-33.7M3539.69 2238v33.7M3619.6 3349v-16.85M3619.6 2238v16.85M3699.5 3349v-16.85M3699.5 2238v16.85M3779.41 3349v-16.85M3779.41 2238v16.85M3859.32 3349v-16.85M3859.32 2238v16.85M3939.22 3349v-33.7M3939.22 2238v33.7M364 4409.98h37.4M1562.8 4409.98h-37.4M364 4359.45h18.7M1562.8 4359.45h-18.7M364 4308.93h18.7M1562.8 4308.93h-18.7M364 4258.41h18.7M1562.8 4258.41h-18.7M364 4207.89h18.7M1562.8 4207.89h-18.7M364 4157.36h37.4M1562.8 4157.36h-37.4M364 4106.84h18.7M1562.8 4106.84h-18.7M364 4056.32h18.7M1562.8 4056.32h-18.7M364 4005.8h18.7M1562.8 4005.8h-18.7M364 3955.27h18.7M1562.8 3955.27h-18.7M364 3904.75h37.4M1562.8 3904.75h-37.4M364 3854.23h18.7M1562.8 3854.23h-18.7M364 3803.7h18.7M1562.8 3803.7h-18.7M364 3753.18h18.7M1562.8 3753.18h-18.7M364 3702.66h18.7M1562.8 3702.66h-18.7M364 3652.14h37.4M1562.8 3652.14h-37.4M364 3601.61h18.7M1562.8 3601.61h-18.7M364 3551.09h18.7M1562.8 3551.09h-18.7M364 3500.57h18.7M1562.8 3500.57h-18.7M364 3450.05h18.7M1562.8 3450.05h-18.7M364 3399.52h37.4M1562.8 3399.52h-37.4M423.94 4460.5v-16.5M423.94 3349v16.5M503.86 4460.5v-16.5M503.86 3349v16.5M583.78 4460.5v-16.5M583.78 3349v16.5M663.7 4460.5v-16.5M663.7 3349v16.5M743.62 4460.5v-33M743.62 3349v33M823.54 4460.5v-16.5M823.54 3349v16.5M903.46 4460.5v-16.5M903.46 3349v16.5M983.38 4460.5v-16.5M983.38 3349v16.5M1063.3 4460.5v-16.5M1063.3 3349v16.5M1143.22 4460.5v-33M1143.22 3349v33M1223.14 4460.5v-16.5M1223.14 3349v16.5M1303.06 4460.5v-16.5M1303.06 3349v16.5M1382.98 4460.5v-16.5M1382.98 3349v16.5M1462.9 4460.5v-16.5M1462.9 3349v16.5M1542.82 4460.5v-33M1542.82 3349v33M1562.8 4409.98h27.4M2760.6 4409.98h-27.4M1562.8 4359.45h13.7M2760.6 4359.45h-13.7M1562.8 4308.93h13.7M2760.6 4308.93h-13.7M1562.8 4258.41h13.7M2760.6 4258.41h-13.7M1562.8 4207.89h13.7M2760.6 4207.89h-13.7M1562.8 4157.36h27.4M2760.6 4157.36h-27.4M1562.8 4106.84h13.7M2760.6 4106.84h-13.7M1562.8 4056.32h13.7M2760.6 4056.32h-13.7M1562.8 4005.8h13.7M2760.6 4005.8h-13.7M1562.8 3955.27h13.7M2760.6 3955.27h-13.7M1562.8 3904.75h27.4M2760.6 3904.75h-27.4M1562.8 3854.23h13.7M2760.6 3854.23h-13.7M1562.8 3803.7h13.7M2760.6 3803.7h-13.7M1562.8 3753.18h13.7M2760.6 3753.18h-13.7M1562.8 3702.66h13.7M2760.6 3702.66h-13.7M1562.8 3652.14h27.4M2760.6 3652.14h-27.4M1562.8 3601.61h13.7M2760.6 3601.61h-13.7M1562.8 3551.09h13.7M2760.6 3551.09h-13.7M1562.8 3500.57h13.7M2760.6 3500.57h-13.7M1562.8 3450.05h13.7M2760.6 3450.05h-13.7M1562.8 3399.52h27.4M2760.6 3399.52h-27.4M1622.69 4460.5v-22M1622.69 3349v22M1702.54 4460.5v-22M1702.54 3349v22M1782.4 4460.5v-22M1782.4 3349v22M1862.25 4460.5v-22M1862.25 3349v22M1942.1 4460.5v-44M1942.1 3349v44M2021.96 4460.5v-22M2021.96 3349v22M2101.81 4460.5v-22M2101.81 3349v22M2181.66 4460.5v-22M2181.66 3349v22M2261.52 4460.5v-22M2261.52 3349v22M2341.37 4460.5v-44M2341.37 3349v44M2421.22 4460.5v-22M2421.22 3349v22M2501.08 4460.5v-22M2501.08 3349v22M2580.93 4460.5v-22M2580.93 3349v22M2660.78 4460.5v-22M2660.78 3349v22M2740.64 4460.5v-44M2740.64 3349v44M2760.6 4409.98h29M3959.2 4409.98h-29M2760.6 4359.45h14.5M3959.2 4359.45h-14.5M2760.6 4308.93h14.5M3959.2 4308.93h-14.5M2760.6 4258.41h14.5M3959.2 4258.41h-14.5M2760.6 4207.89h14.5M3959.2 4207.89h-14.5M2760.6 4157.36h29M3959.2 4157.36h-29M2760.6 4106.84h14.5M3959.2 4106.84h-14.5M2760.6 4056.32h14.5M3959.2 4056.32h-14.5M2760.6 4005.8h14.5M3959.2 4005.8h-14.5M2760.6 3955.27h14.5M3959.2 3955.27h-14.5M2760.6 3904.75h29M3959.2 3904.75h-29M2760.6 3854.23h14.5M3959.2 3854.23h-14.5M2760.6 3803.7h14.5M3959.2 3803.7h-14.5M2760.6 3753.18h14.5M3959.2 3753.18h-14.5M2760.6 3702.66h14.5M3959.2 3702.66h-14.5M2760.6 3652.14h29M3959.2 3652.14h-29M2760.6 3601.61h14.5M3959.2 3601.61h-14.5M2760.6 3551.09h14.5M3959.2 3551.09h-14.5M2760.6 3500.57h14.5M3959.2 3500.57h-14.5M2760.6 3450.05h14.5M3959.2 3450.05h-14.5M2760.6 3399.52h29M3959.2 3399.52h-29M2820.53 4460.5v-21.2M2820.53 3349v21.2M2900.44 4460.5v-21.2M2900.44 3349v21.2M2980.34 4460.5v-21.2M2980.34 3349v21.2M3060.25 4460.5v-21.2M3060.25 3349v21.2M3140.16 4460.5v-42.4M3140.16 3349v42.4M3220.06 4460.5v-21.2M3220.06 3349v21.2M3299.97 4460.5v-21.2M3299.97 3349v21.2M3379.88 4460.5v-21.2M3379.88 3349v21.2M3459.78 4460.5v-21.2M3459.78 3349v21.2M3539.69 4460.5v-42.4M3539.69 3349v42.4M3619.6 4460.5v-21.2M3619.6 3349v21.2M3699.5 4460.5v-21.2M3699.5 3349v21.2M3779.41 4460.5v-21.2M3779.41 3349v21.2M3859.32 4460.5v-21.2M3859.32 3349v21.2M3939.22 4460.5v-42.4M3939.22 3349v42.4" stroke="#000" stroke-width="5.3" fill="none"/>
<path d="M364 16.1H3959.2V4460.5H364ZM1562.8 16.1V4460.5M2760.6 16.1V4460.5M364 1127H3959.2M364 2238H3959.2M364 3349H3959.2" stroke="#000" stroke-width="10.9" fill="none" stroke-linejoin="miter"/>
<text transform="translate(1062 165.7) scale(1.025 1.03)" style="font-family:'Liberation Sans',sans-serif;font-weight:bold;font-size:68px">Toward</text>
<text transform="translate(1062 264.6) scale(1 1.03)" style="font-family:'Liberation Sans',sans-serif;font-weight:bold;font-size:68px">0.0 &lt; R<tspan dy="20.5" style="font-size:44px">T</tspan><tspan dy="-20.5"> &lt; 0.5</tspan></text>
<text transform="translate(1380.25 1025.4) scale(1 1.03)" style="font-family:'Liberation Sans',sans-serif;font-weight:bold;font-size:68px">(a)</text>
<text transform="translate(2258.3 165.7) scale(1 1.03)" style="font-family:'Liberation Sans',sans-serif;font-weight:bold;font-size:68px">Away</text>
<text transform="translate(2258.3 264.6) scale(1 1.03)" style="font-family:'Liberation Sans',sans-serif;font-weight:bold;font-size:68px">0.0 &lt; R<tspan dy="20.5" style="font-size:44px">T</tspan><tspan dy="-20.5"> &lt; 0.5</tspan></text>
<text transform="translate(2576.85 1025.4) scale(1 1.03)" style="font-family:'Liberation Sans',sans-serif;font-weight:bold;font-size:68px">(b)</text>
<text transform="translate(3460.6 165.7) scale(1.005 1.03)" style="font-family:'Liberation Sans',sans-serif;font-weight:bold;font-size:68px">Transverse</text>
<text transform="translate(3458.6 264.6) scale(1 1.03)" style="font-family:'Liberation Sans',sans-serif;font-weight:bold;font-size:68px">0.0 &lt; R<tspan dy="20.5" style="font-size:44px">T</tspan><tspan dy="-20.5"> &lt; 0.5</tspan></text>
<text transform="translate(3777.55 1025.4) scale(1 1.03)" style="font-family:'Liberation Sans',sans-serif;font-weight:bold;font-size:68px">(c)</text>
<text transform="translate(1062 1276.6) scale(1.025 1.03)" style="font-family:'Liberation Sans',sans-serif;font-weight:bold;font-size:68px">Toward</text>
<text transform="translate(1062 1375.5) scale(1 1.03)" style="font-family:'Liberation Sans',sans-serif;font-weight:bold;font-size:68px">0.5 &lt; R<tspan dy="20.5" style="font-size:44px">T</tspan><tspan dy="-20.5"> &lt; 1.5</tspan></text>
<text transform="translate(1380.25 2136.3) scale(1 1.03)" style="font-family:'Liberation Sans',sans-serif;font-weight:bold;font-size:68px">(d)</text>
<text transform="translate(2258.3 1276.6) scale(1 1.03)" style="font-family:'Liberation Sans',sans-serif;font-weight:bold;font-size:68px">Away</text>
<text transform="translate(2258.3 1375.5) scale(1 1.03)" style="font-family:'Liberation Sans',sans-serif;font-weight:bold;font-size:68px">0.5 &lt; R<tspan dy="20.5" style="font-size:44px">T</tspan><tspan dy="-20.5"> &lt; 1.5</tspan></text>
<text transform="translate(2576.85 2136.3) scale(1 1.03)" style="font-family:'Liberation Sans',sans-serif;font-weight:bold;font-size:68px">(e)</text>
<text transform="translate(3460.6 1276.6) scale(1.005 1.03)" style="font-family:'Liberation Sans',sans-serif;font-weight:bold;font-size:68px">Transverse</text>
<text transform="translate(3458.6 1375.5) scale(1 1.03)" style="font-family:'Liberation Sans',sans-serif;font-weight:bold;font-size:68px">0.5 &lt; R<tspan dy="20.5" style="font-size:44px">T</tspan><tspan dy="-20.5"> &lt; 1.5</tspan></text>
<text transform="translate(3777.55 2136.3) scale(1 1.03)" style="font-family:'Liberation Sans',sans-serif;font-weight:bold;font-size:68px">(f)</text>
<text transform="translate(1062 2387.6) scale(1.025 1.03)" style="font-family:'Liberation Sans',sans-serif;font-weight:bold;font-size:68px">Toward</text>
<text transform="translate(1062 2486.5) scale(1 1.03)" style="font-family:'Liberation Sans',sans-serif;font-weight:bold;font-size:68px">1.5 &lt; R<tspan dy="20.5" style="font-size:44px">T</tspan><tspan dy="-20.5"> &lt; 2.5</tspan></text>
<text transform="translate(1380.25 3247.3) scale(1 1.03)" style="font-family:'Liberation Sans',sans-serif;font-weight:bold;font-size:68px">(g)</text>
<text transform="translate(2258.3 2387.6) scale(1 1.03)" style="font-family:'Liberation Sans',sans-serif;font-weight:bold;font-size:68px">Away</text>
<text transform="translate(2258.3 2486.5) scale(1 1.03)" style="font-family:'Liberation Sans',sans-serif;font-weight:bold;font-size:68px">1.5 &lt; R<tspan dy="20.5" style="font-size:44px">T</tspan><tspan dy="-20.5"> &lt; 2.5</tspan></text>
<text transform="translate(2576.85 3247.3) scale(1 1.03)" style="font-family:'Liberation Sans',sans-serif;font-weight:bold;font-size:68px">(h)</text>
<text transform="translate(3460.6 2387.6) scale(1.005 1.03)" style="font-family:'Liberation Sans',sans-serif;font-weight:bold;font-size:68px">Transverse</text>
<text transform="translate(3458.6 2486.5) scale(1 1.03)" style="font-family:'Liberation Sans',sans-serif;font-weight:bold;font-size:68px">1.5 &lt; R<tspan dy="20.5" style="font-size:44px">T</tspan><tspan dy="-20.5"> &lt; 2.5</tspan></text>
<text transform="translate(3777.55 3247.3) scale(1 1.03)" style="font-family:'Liberation Sans',sans-serif;font-weight:bold;font-size:68px">(i)</text>
<text transform="translate(1062 3497.4) scale(1.025 1.03)" style="font-family:'Liberation Sans',sans-serif;font-weight:bold;font-size:68px">Toward</text>
<text transform="translate(1062 3596.6) scale(1 1.03)" style="font-family:'Liberation Sans',sans-serif;font-weight:bold;font-size:68px">2.5 &lt; R<tspan dy="20.5" style="font-size:44px">T</tspan><tspan dy="-20.5"> &lt; 5.0</tspan></text>
<text transform="translate(1380.25 4358.3) scale(1 1.03)" style="font-family:'Liberation Sans',sans-serif;font-weight:bold;font-size:68px">(j)</text>
<text transform="translate(2258.3 3497.4) scale(1 1.03)" style="font-family:'Liberation Sans',sans-serif;font-weight:bold;font-size:68px">Away</text>
<text transform="translate(2258.3 3596.6) scale(1 1.03)" style="font-family:'Liberation Sans',sans-serif;font-weight:bold;font-size:68px">2.5 &lt; R<tspan dy="20.5" style="font-size:44px">T</tspan><tspan dy="-20.5"> &lt; 5.0</tspan></text>
<text transform="translate(2576.85 4358.3) scale(1 1.03)" style="font-family:'Liberation Sans',sans-serif;font-weight:bold;font-size:68px">(k)</text>
<text transform="translate(3460.6 3497.4) scale(1.005 1.03)" style="font-family:'Liberation Sans',sans-serif;font-weight:bold;font-size:68px">Transverse</text>
<text transform="translate(3458.6 3596.6) scale(1 1.03)" style="font-family:'Liberation Sans',sans-serif;font-weight:bold;font-size:68px">2.5 &lt; R<tspan dy="20.5" style="font-size:44px">T</tspan><tspan dy="-20.5"> &lt; 5.0</tspan></text>
<text transform="translate(3777.55 4358.3) scale(1 1.03)" style="font-family:'Liberation Sans',sans-serif;font-weight:bold;font-size:68px">(l)</text>
<text transform="translate(500.5 165.7) scale(1 1.03)" style="font-family:'Liberation Sans',sans-serif;font-weight:bold;font-size:68px">TBW4</text>
<text transform="translate(500.5 264.4) scale(1 1.03)" style="font-family:'Liberation Sans',sans-serif;font-weight:bold;font-size:68px">pp 13TeV</text>
<circle cx="561.2" cy="874.8" r="18.0" fill="#000"/>
<circle cx="561.2" cy="950.3" r="18.0" fill="#f00"/>
<circle cx="561.2" cy="1025.7" r="18.0" fill="#00f"/>
<text x="614" y="886" style="font-family:'Liberation Serif',serif;font-style:italic;font-weight:normal;font-size:67px;stroke:#000;stroke-width:1.3px">π</text>
<text x="648.5" y="862" style="font-family:'Liberation Sans',sans-serif;font-weight:bold;font-size:42px">+</text>
<text x="689" y="891" style="font-family:'Liberation Sans',sans-serif;font-weight:bold;font-size:64px">+</text>
<text x="753" y="886" style="font-family:'Liberation Serif',serif;font-style:italic;font-weight:normal;font-size:67px;stroke:#000;stroke-width:1.3px">π</text>
<text x="787.5" y="858.5" style="font-family:'Liberation Sans',sans-serif;font-weight:bold;font-size:42px">-</text>
<text x="612.5" y="962.1" style="font-family:'Liberation Sans',sans-serif;font-weight:bold;font-size:64px">K</text>
<text x="662" y="932.1" style="font-family:'Liberation Sans',sans-serif;font-weight:bold;font-size:42px">+</text>
<text x="702" y="967.1" style="font-family:'Liberation Sans',sans-serif;font-weight:bold;font-size:64px">+</text>
<text x="757.3" y="962.1" style="font-family:'Liberation Sans',sans-serif;font-weight:bold;font-size:64px">K</text>
<text x="806.5" y="926.6" style="font-family:'Liberation Sans',sans-serif;font-weight:bold;font-size:42px">-</text>
<text x="612.5" y="1037.6" style="font-family:'Liberation Sans',sans-serif;font-weight:bold;font-size:64px">p</text>
<text x="669" y="1042.1" style="font-family:'Liberation Sans',sans-serif;font-weight:bold;font-size:64px">+</text>
<text x="729.5" y="1037.6" style="font-family:'Liberation Sans',sans-serif;font-weight:bold;font-size:64px">p</text>
<line x1="729.5" y1="993.5" x2="769.8" y2="993.5" stroke="#000" stroke-width="10.6"/>
<text transform="translate(328.8 90) scale(1 1.03)" text-anchor="end" style="font-family:'Liberation Sans',sans-serif;font-weight:bold;font-size:68px">10</text>
<text transform="translate(330.9 347.17) scale(1 1.03)" text-anchor="end" style="font-family:'Liberation Sans',sans-serif;font-weight:bold;font-size:68px">5</text>
<text transform="translate(331.6 598.65) scale(1 1.03)" text-anchor="end" style="font-family:'Liberation Sans',sans-serif;font-weight:bold;font-size:68px">0</text>
<text transform="translate(330.9 850.73) scale(1 1.03)" text-anchor="end" style="font-family:'Liberation Sans',sans-serif;font-weight:bold;font-size:68px">5</text>
<text x="249.3" y="856.53" style="font-family:'Liberation Serif',serif;font-size:76.6px">−</text>
<text transform="translate(328.8 1102.1) scale(1 1.03)" text-anchor="end" style="font-family:'Liberation Sans',sans-serif;font-weight:bold;font-size:68px">10</text>
<text x="209" y="1108.5" style="font-family:'Liberation Serif',serif;font-size:76.6px">−</text>
<text transform="translate(73 565.75) rotate(-90) scale(1 1)" text-anchor="middle" style="font-family:'Liberation Sans',sans-serif;font-weight:bold;font-size:82px">pull</text>
<text transform="translate(328.8 1200.9) scale(1 1.03)" text-anchor="end" style="font-family:'Liberation Sans',sans-serif;font-weight:bold;font-size:68px">10</text>
<text transform="translate(330.9 1458.1) scale(1 1.03)" text-anchor="end" style="font-family:'Liberation Sans',sans-serif;font-weight:bold;font-size:68px">5</text>
<text transform="translate(331.6 1709.6) scale(1 1.03)" text-anchor="end" style="font-family:'Liberation Sans',sans-serif;font-weight:bold;font-size:68px">0</text>
<text transform="translate(330.9 1961.7) scale(1 1.03)" text-anchor="end" style="font-family:'Liberation Sans',sans-serif;font-weight:bold;font-size:68px">5</text>
<text x="249.3" y="1967.5" style="font-family:'Liberation Serif',serif;font-size:76.6px">−</text>
<text transform="translate(328.8 2213.1) scale(1 1.03)" text-anchor="end" style="font-family:'Liberation Sans',sans-serif;font-weight:bold;font-size:68px">10</text>
<text x="209" y="2219.5" style="font-family:'Liberation Serif',serif;font-size:76.6px">−</text>
<text transform="translate(73 1676.7) rotate(-90) scale(1 1)" text-anchor="middle" style="font-family:'Liberation Sans',sans-serif;font-weight:bold;font-size:82px">pull</text>
<text transform="translate(328.8 2311.9) scale(1 1.03)" text-anchor="end" style="font-family:'Liberation Sans',sans-serif;font-weight:bold;font-size:68px">10</text>
<text transform="translate(330.9 2569.1) scale(1 1.03)" text-anchor="end" style="font-family:'Liberation Sans',sans-serif;font-weight:bold;font-size:68px">5</text>
<text transform="translate(331.6 2820.6) scale(1 1.03)" text-anchor="end" style="font-family:'Liberation Sans',sans-serif;font-weight:bold;font-size:68px">0</text>
<text transform="translate(330.9 3072.7) scale(1 1.03)" text-anchor="end" style="font-family:'Liberation Sans',sans-serif;font-weight:bold;font-size:68px">5</text>
<text x="249.3" y="3078.5" style="font-family:'Liberation Serif',serif;font-size:76.6px">−</text>
<text transform="translate(328.8 3324.1) scale(1 1.03)" text-anchor="end" style="font-family:'Liberation Sans',sans-serif;font-weight:bold;font-size:68px">10</text>
<text x="209" y="3330.5" style="font-family:'Liberation Serif',serif;font-size:76.6px">−</text>
<text transform="translate(73 2787.7) rotate(-90) scale(1 1)" text-anchor="middle" style="font-family:'Liberation Sans',sans-serif;font-weight:bold;font-size:82px">pull</text>
<text transform="translate(328.8 3422.92) scale(1 1.03)" text-anchor="end" style="font-family:'Liberation Sans',sans-serif;font-weight:bold;font-size:68px">10</text>
<text transform="translate(330.9 3680.24) scale(1 1.03)" text-anchor="end" style="font-family:'Liberation Sans',sans-serif;font-weight:bold;font-size:68px">5</text>
<text transform="translate(331.6 3931.85) scale(1 1.03)" text-anchor="end" style="font-family:'Liberation Sans',sans-serif;font-weight:bold;font-size:68px">0</text>
<text transform="translate(330.9 4184.06) scale(1 1.03)" text-anchor="end" style="font-family:'Liberation Sans',sans-serif;font-weight:bold;font-size:68px">5</text>
<text x="249.3" y="4189.86" style="font-family:'Liberation Serif',serif;font-size:76.6px">−</text>
<text transform="translate(328.8 4435.58) scale(1 1.03)" text-anchor="end" style="font-family:'Liberation Sans',sans-serif;font-weight:bold;font-size:68px">10</text>
<text x="209" y="4441.98" style="font-family:'Liberation Serif',serif;font-size:76.6px">−</text>
<text transform="translate(73 3898.95) rotate(-90) scale(1 1)" text-anchor="middle" style="font-family:'Liberation Sans',sans-serif;font-weight:bold;font-size:82px">pull</text>
<text transform="translate(743.42 4546.5) scale(1 1.03)" text-anchor="middle" style="font-family:'Liberation Sans',sans-serif;font-weight:bold;font-size:68px">1</text>
<text transform="translate(1138.72 4546.5) scale(1 1.03)" text-anchor="middle" style="font-family:'Liberation Sans',sans-serif;font-weight:bold;font-size:68px">2</text>
<text transform="translate(1539.82 4546.5) scale(1 1.03)" text-anchor="middle" style="font-family:'Liberation Sans',sans-serif;font-weight:bold;font-size:68px">3</text>
<text transform="translate(769 4649.6) scale(1 1)" style="font-family:'Liberation Sans',sans-serif;font-weight:bold;font-size:82px">p<tspan dy="39.5" style="font-size:54px">T</tspan><tspan dy="-39.5"> [GeV/c]</tspan></text>
<text transform="translate(1939.5 4546.5) scale(1 1.03)" text-anchor="middle" style="font-family:'Liberation Sans',sans-serif;font-weight:bold;font-size:68px">1</text>
<text transform="translate(2339.77 4546.5) scale(1 1.03)" text-anchor="middle" style="font-family:'Liberation Sans',sans-serif;font-weight:bold;font-size:68px">2</text>
<text transform="translate(2740.74 4546.5) scale(1 1.03)" text-anchor="middle" style="font-family:'Liberation Sans',sans-serif;font-weight:bold;font-size:68px">3</text>
<text transform="translate(1965.8 4649.6) scale(1 1)" style="font-family:'Liberation Sans',sans-serif;font-weight:bold;font-size:82px">p<tspan dy="39.5" style="font-size:54px">T</tspan><tspan dy="-39.5"> [GeV/c]</tspan></text>
<text transform="translate(3136.06 4546.5) scale(1 1.03)" text-anchor="middle" style="font-family:'Liberation Sans',sans-serif;font-weight:bold;font-size:68px">1</text>
<text transform="translate(3536.49 4546.5) scale(1 1.03)" text-anchor="middle" style="font-family:'Liberation Sans',sans-serif;font-weight:bold;font-size:68px">2</text>
<text transform="translate(3937.22 4546.5) scale(1 1.03)" text-anchor="middle" style="font-family:'Liberation Sans',sans-serif;font-weight:bold;font-size:68px">3</text>
<text transform="translate(3161.7 4649.6) scale(1 1)" style="font-family:'Liberation Sans',sans-serif;font-weight:bold;font-size:82px">p<tspan dy="39.5" style="font-size:54px">T</tspan><tspan dy="-39.5"> [GeV/c]</tspan></text>
</svg></body></html>
